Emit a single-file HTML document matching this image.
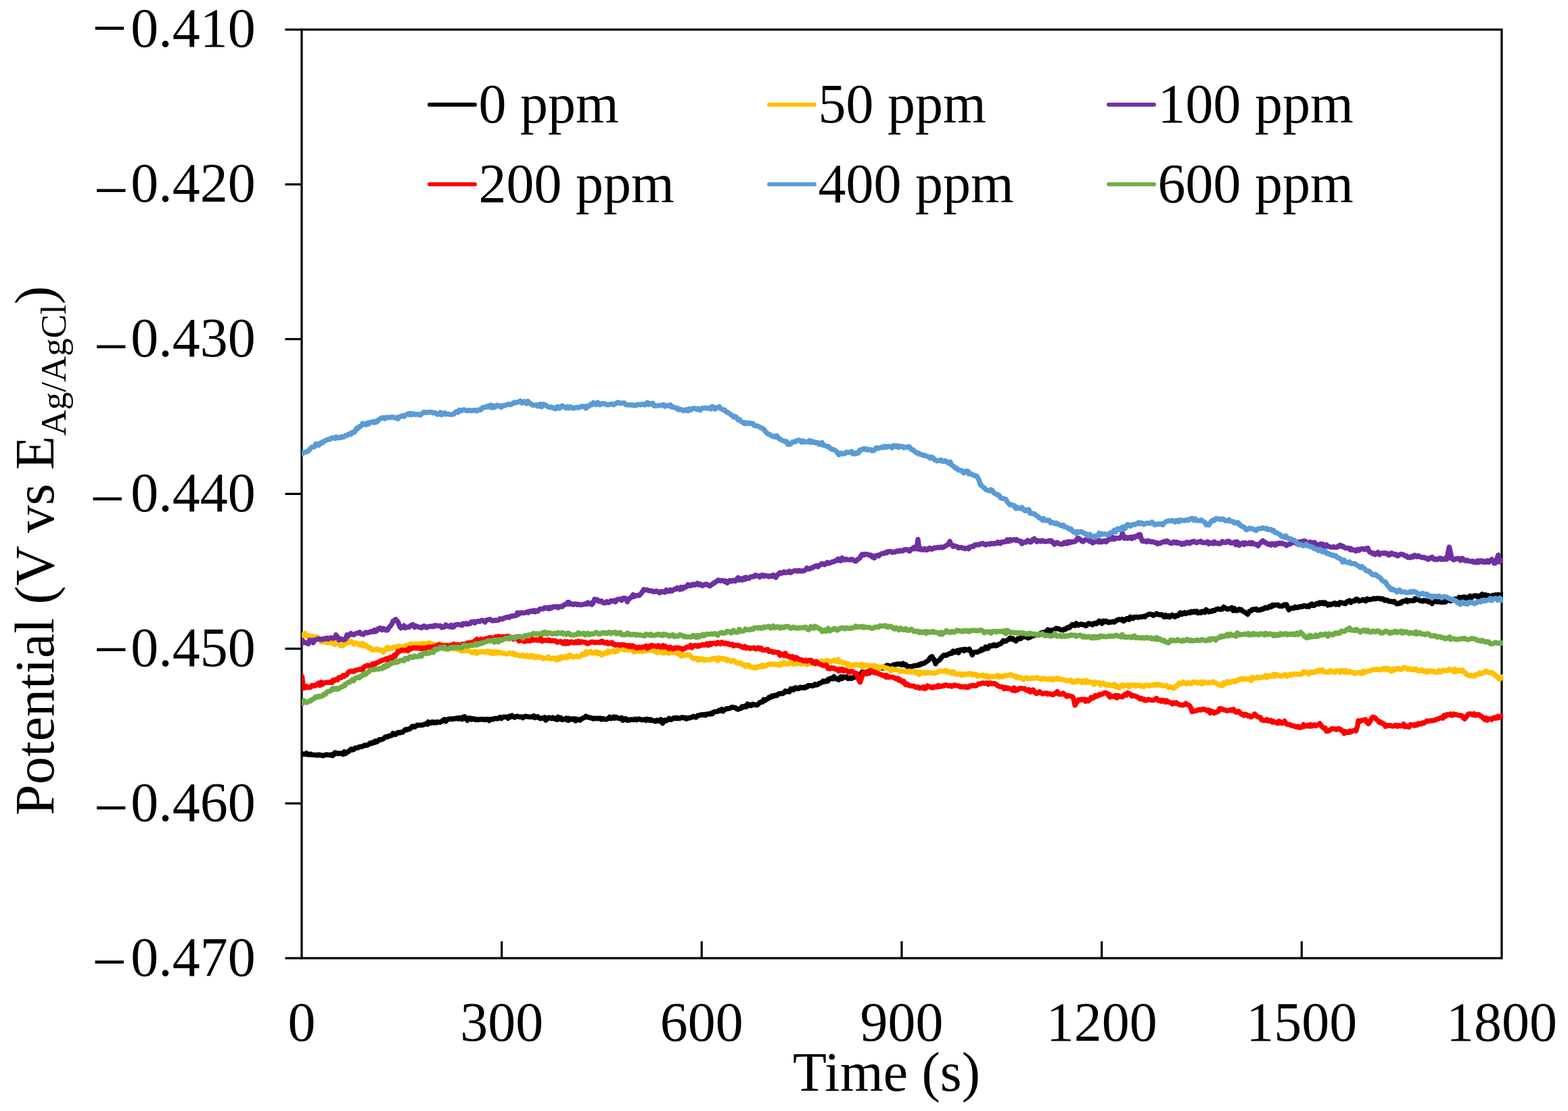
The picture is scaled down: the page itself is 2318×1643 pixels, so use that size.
<!DOCTYPE html>
<html><head><meta charset="utf-8"><style>
html,body{margin:0;padding:0;background:#fff;}
svg{display:block;}
text{font-family:"Liberation Serif","Times New Roman",serif;font-size:82px;fill:#000;}
</style></head><body>
<svg width="2318" height="1643" viewBox="0 0 2318 1643">
<rect width="2318" height="1643" fill="#fff"/>
<rect x="446.0" y="43.8" width="1774.0" height="1373.2" fill="none" stroke="#000" stroke-width="3.2"/>
<line x1="421.5" y1="43.8" x2="446.0" y2="43.8" stroke="#000" stroke-width="3.2"/>
<line x1="421.5" y1="272.7" x2="446.0" y2="272.7" stroke="#000" stroke-width="3.2"/>
<line x1="421.5" y1="501.5" x2="446.0" y2="501.5" stroke="#000" stroke-width="3.2"/>
<line x1="421.5" y1="730.4" x2="446.0" y2="730.4" stroke="#000" stroke-width="3.2"/>
<line x1="421.5" y1="959.3" x2="446.0" y2="959.3" stroke="#000" stroke-width="3.2"/>
<line x1="421.5" y1="1188.1" x2="446.0" y2="1188.1" stroke="#000" stroke-width="3.2"/>
<line x1="421.5" y1="1417.0" x2="446.0" y2="1417.0" stroke="#000" stroke-width="3.2"/>
<line x1="741.7" y1="1417.0" x2="741.7" y2="1392" stroke="#000" stroke-width="3.2"/>
<line x1="1037.3" y1="1417.0" x2="1037.3" y2="1392" stroke="#000" stroke-width="3.2"/>
<line x1="1333.0" y1="1417.0" x2="1333.0" y2="1392" stroke="#000" stroke-width="3.2"/>
<line x1="1628.7" y1="1417.0" x2="1628.7" y2="1392" stroke="#000" stroke-width="3.2"/>
<line x1="1924.3" y1="1417.0" x2="1924.3" y2="1392" stroke="#000" stroke-width="3.2"/>
<defs><clipPath id="pa"><rect x="446.0" y="43.8" width="1776.0" height="1373.2"/></clipPath></defs>
<g fill="none" stroke-width="7.5" stroke-linejoin="round" stroke-linecap="round" clip-path="url(#pa)">
<path d="M447.0,1114.8 449.0,1115.5 451.0,1115.2 453.0,1113.7 455.0,1116.1 457.5,1115.8 459.0,1115.0 461.0,1116.3 463.0,1116.3 465.0,1116.4 467.0,1116.4 469.0,1117.1 471.0,1116.0 473.0,1116.8 474.9,1116.6 477.0,1117.6 479.0,1117.0 481.0,1116.5 483.0,1115.9 485.0,1116.4 487.0,1116.5 489.0,1116.1 491.0,1117.6 492.4,1117.2 495.0,1113.0 497.0,1113.4 499.0,1114.7 501.0,1114.1 503.0,1114.3 505.0,1113.9 507.0,1115.4 509.0,1111.8 509.8,1112.4 511.0,1114.4 513.0,1112.3 515.0,1111.6 517.0,1109.7 519.0,1107.9 521.0,1109.0 523.0,1108.3 525.0,1106.2 527.3,1106.0 529.0,1106.0 531.0,1104.4 533.0,1104.5 535.0,1104.0 537.0,1103.3 539.0,1102.0 541.0,1102.4 543.0,1102.0 544.8,1100.9 547.0,1098.9 549.0,1099.8 551.0,1097.8 553.0,1098.5 555.0,1095.9 557.0,1097.2 559.0,1095.5 561.0,1093.6 562.2,1094.1 565.0,1093.2 567.0,1092.5 569.0,1090.4 571.0,1089.4 573.0,1089.8 575.0,1088.2 577.0,1088.0 579.7,1087.3 581.0,1084.5 583.0,1085.8 585.0,1086.2 587.0,1084.1 589.0,1083.0 591.0,1083.9 593.0,1082.8 595.0,1082.9 597.1,1081.0 599.0,1079.0 601.0,1079.5 603.0,1078.2 605.0,1078.6 607.0,1077.1 609.0,1074.4 611.0,1073.9 613.0,1075.1 614.6,1074.1 617.0,1072.3 619.0,1072.6 621.0,1072.6 623.0,1072.3 625.0,1072.3 627.0,1071.2 629.0,1070.5 631.0,1069.9 632.1,1071.0 633.0,1067.6 635.0,1069.4 637.0,1069.3 639.0,1067.5 641.0,1069.0 643.0,1067.7 645.0,1068.9 647.0,1067.6 649.5,1068.0 651.0,1068.2 653.0,1066.9 655.0,1065.1 657.0,1064.0 659.0,1066.7 661.0,1064.4 663.0,1063.3 665.0,1063.6 667.0,1062.8 669.0,1063.7 671.0,1062.8 673.0,1062.7 675.0,1061.9 677.0,1063.0 679.0,1061.4 681.0,1063.0 683.0,1063.7 684.4,1060.6 687.0,1059.9 689.0,1063.2 691.0,1065.3 693.0,1062.0 695.0,1061.9 697.0,1064.0 699.0,1062.7 701.0,1063.3 701.9,1063.5 703.0,1064.5 705.0,1063.6 707.0,1064.4 709.0,1064.0 711.0,1063.5 713.0,1064.1 715.0,1063.6 717.0,1064.6 719.4,1063.6 721.0,1063.4 723.0,1065.6 725.0,1063.8 727.0,1063.5 729.0,1063.8 731.0,1062.6 733.0,1062.5 735.0,1062.8 736.8,1062.4 739.0,1060.7 741.0,1062.5 743.0,1060.9 745.0,1060.2 747.0,1060.2 749.0,1060.5 751.0,1062.3 753.0,1059.3 754.3,1060.5 757.0,1058.1 759.0,1060.1 761.0,1060.9 763.0,1059.7 765.0,1059.2 767.0,1060.0 769.0,1060.3 771.7,1060.2 773.0,1061.5 775.0,1059.9 777.0,1059.2 779.0,1059.7 781.0,1059.9 783.0,1060.2 785.0,1060.1 787.0,1060.4 789.2,1058.7 791.0,1061.4 793.0,1060.2 795.0,1059.8 797.0,1061.8 799.0,1062.7 801.0,1062.0 803.0,1061.9 805.0,1061.0 806.7,1065.0 809.0,1063.1 811.0,1061.2 813.0,1061.7 815.0,1062.6 817.0,1061.1 819.0,1062.9 821.0,1062.4 823.0,1064.2 824.1,1064.0 825.0,1060.3 827.0,1063.1 829.0,1061.5 831.0,1064.3 833.0,1063.4 835.0,1063.8 837.0,1062.3 839.0,1065.2 839.9,1065.4 841.0,1062.4 843.0,1064.0 845.0,1063.1 847.0,1063.9 849.0,1062.8 851.0,1066.1 853.0,1063.4 855.0,1064.3 857.5,1065.2 859.0,1063.3 861.0,1062.7 863.0,1061.4 865.0,1060.8 866.2,1059.2 867.0,1060.1 869.0,1060.7 871.0,1061.0 873.0,1061.8 874.9,1061.8 877.0,1063.1 879.0,1062.2 881.0,1062.6 883.0,1062.3 885.0,1062.6 887.0,1062.1 889.0,1064.0 891.0,1062.6 892.4,1063.1 895.0,1063.8 897.0,1063.6 899.0,1062.5 901.0,1060.6 903.0,1062.7 905.0,1062.2 907.0,1060.3 909.0,1062.1 909.8,1060.5 911.0,1060.4 913.0,1062.0 915.0,1062.1 917.0,1062.9 919.0,1061.5 921.0,1065.3 923.0,1063.3 925.0,1062.7 927.3,1065.4 929.0,1064.3 931.0,1064.9 933.0,1064.1 935.0,1064.3 937.0,1064.5 939.0,1063.4 941.0,1064.7 943.0,1063.5 944.8,1063.0 947.0,1064.2 949.0,1064.7 951.0,1064.3 953.0,1063.8 955.0,1065.5 957.0,1063.3 959.0,1064.3 961.0,1065.5 962.2,1064.2 965.0,1065.8 967.0,1065.8 969.0,1066.8 971.0,1065.1 973.0,1065.5 975.0,1066.6 977.0,1063.9 979.7,1069.6 981.0,1065.5 983.0,1064.9 985.0,1066.0 987.0,1064.6 989.0,1062.4 991.0,1064.3 993.0,1064.0 995.0,1062.2 997.1,1061.8 999.0,1062.6 1001.0,1061.2 1003.0,1062.6 1005.0,1062.3 1007.0,1061.4 1009.0,1060.7 1011.0,1061.9 1013.0,1061.2 1014.6,1063.1 1017.0,1061.8 1019.0,1062.0 1021.0,1061.0 1023.0,1060.7 1025.0,1059.3 1027.0,1060.3 1029.0,1061.0 1031.0,1058.5 1032.1,1058.0 1033.0,1058.3 1035.0,1057.6 1037.0,1056.9 1039.0,1057.4 1041.0,1056.5 1043.0,1057.9 1045.0,1056.0 1047.0,1056.0 1049.5,1056.1 1051.0,1054.5 1053.0,1055.7 1055.0,1053.1 1057.0,1052.5 1059.0,1052.4 1061.0,1052.1 1063.0,1050.4 1065.0,1051.2 1067.0,1049.1 1069.0,1051.7 1071.0,1049.7 1073.0,1048.6 1075.0,1047.9 1077.0,1047.9 1079.0,1047.5 1081.0,1046.2 1083.0,1045.8 1084.4,1046.2 1087.0,1046.4 1089.0,1048.3 1091.0,1048.9 1093.2,1048.2 1095.0,1047.7 1097.0,1044.9 1099.0,1045.9 1101.0,1044.2 1101.9,1044.3 1103.0,1045.3 1105.0,1041.2 1107.0,1043.5 1109.0,1042.0 1111.0,1043.5 1113.0,1041.4 1115.0,1042.0 1117.0,1042.5 1119.4,1042.7 1121.0,1041.1 1123.0,1039.1 1125.0,1038.1 1127.0,1038.3 1128.1,1036.8 1129.0,1034.6 1131.0,1035.9 1133.0,1034.3 1135.0,1033.5 1136.8,1031.2 1139.0,1031.6 1141.0,1029.0 1143.0,1030.0 1145.0,1028.2 1147.0,1028.7 1149.0,1028.3 1151.0,1025.9 1153.0,1025.8 1154.3,1025.5 1157.0,1025.7 1159.0,1024.5 1161.0,1021.9 1163.0,1022.9 1165.0,1022.4 1167.0,1023.1 1169.0,1018.6 1171.7,1018.8 1173.0,1020.4 1175.0,1017.3 1177.0,1017.1 1179.0,1018.4 1181.0,1018.5 1183.0,1016.4 1185.0,1017.2 1187.0,1016.4 1189.2,1017.4 1191.0,1015.5 1193.0,1016.1 1195.0,1013.8 1197.0,1014.1 1199.0,1013.8 1201.0,1014.6 1203.0,1013.7 1205.0,1011.9 1206.7,1013.0 1209.0,1012.3 1211.0,1010.7 1213.0,1009.9 1215.0,1009.2 1217.0,1007.0 1219.0,1008.2 1221.0,1007.6 1223.0,1005.8 1224.1,1007.0 1225.0,1004.3 1227.0,1003.9 1229.0,1002.7 1231.1,1003.9 1233.0,1000.8 1235.0,1003.4 1237.0,1004.3 1239.0,1004.2 1239.9,1005.2 1241.0,1002.8 1243.0,1001.0 1245.0,1003.6 1247.0,1001.1 1248.7,1001.6 1251.0,1000.9 1253.0,1003.4 1255.0,1003.4 1257.5,1002.0 1259.0,1003.4 1261.0,1002.2 1263.0,1001.5 1265.0,1001.3 1266.2,1000.8 1267.0,1001.0 1269.0,999.1 1271.0,996.8 1273.0,996.6 1274.9,993.4 1277.0,994.2 1279.0,994.2 1281.0,995.2 1283.0,993.1 1285.0,995.3 1287.0,993.6 1289.0,993.1 1291.0,992.5 1292.4,993.7 1295.0,991.9 1297.0,989.7 1299.0,988.7 1301.0,988.3 1303.0,987.2 1305.0,987.9 1307.0,987.2 1309.0,985.7 1309.8,984.8 1311.0,983.9 1313.0,984.2 1315.0,984.8 1317.0,985.8 1319.0,984.4 1321.0,983.0 1323.0,983.1 1325.0,982.4 1327.3,981.9 1329.0,982.2 1331.0,982.1 1333.0,983.4 1335.0,981.2 1336.0,982.3 1337.0,983.3 1339.0,982.8 1341.0,985.5 1343.0,985.8 1344.8,985.8 1347.0,986.0 1349.0,985.3 1351.0,984.7 1353.0,984.3 1355.0,984.3 1357.0,984.2 1359.0,982.4 1361.0,982.9 1362.2,981.2 1365.0,981.3 1367.0,980.4 1369.0,978.8 1370.9,977.7 1373.0,976.0 1375.0,972.7 1377.0,971.1 1377.9,971.0 1379.0,973.2 1381.0,976.0 1383.2,981.7 1385.0,977.7 1387.0,977.3 1389.0,976.1 1391.0,973.2 1393.0,971.0 1395.0,969.1 1397.1,968.9 1399.0,969.3 1401.0,967.8 1403.0,967.1 1405.0,966.0 1407.0,966.3 1409.0,963.0 1411.0,964.8 1413.0,964.0 1414.6,962.1 1417.0,965.2 1419.0,961.2 1421.0,961.1 1423.0,960.6 1425.0,962.5 1427.0,960.1 1429.0,961.3 1431.0,960.8 1432.1,960.2 1433.0,959.9 1435.0,963.3 1437.3,968.6 1439.0,964.9 1441.0,964.5 1443.0,964.4 1445.0,964.5 1447.0,963.1 1449.5,962.5 1451.0,960.0 1453.0,961.1 1455.0,959.8 1457.0,956.8 1459.0,959.0 1461.0,958.8 1463.0,954.9 1465.0,954.8 1467.0,955.3 1469.0,953.4 1471.0,953.9 1472.2,955.2 1475.0,953.9 1477.0,952.5 1479.0,952.2 1481.0,950.5 1483.0,947.5 1484.4,948.3 1487.0,948.3 1489.0,946.7 1491.0,945.5 1493.2,943.4 1495.0,945.1 1497.0,944.0 1499.0,946.5 1501.0,946.4 1501.9,948.0 1503.0,946.8 1505.0,944.2 1507.0,944.5 1509.0,944.6 1510.6,941.4 1513.0,942.0 1515.0,941.8 1517.0,941.0 1519.4,943.5 1521.0,943.3 1523.0,942.2 1525.0,941.1 1527.0,940.2 1529.0,939.9 1531.0,938.3 1533.0,939.3 1535.0,938.9 1536.8,938.2 1539.0,936.0 1541.0,935.9 1543.0,935.0 1545.0,936.2 1547.0,933.9 1549.0,931.1 1551.0,932.7 1553.0,933.5 1554.3,931.9 1557.0,932.1 1559.0,931.2 1561.0,929.2 1563.0,929.4 1565.0,929.9 1567.0,931.0 1569.0,931.5 1571.7,931.9 1573.0,930.3 1575.0,930.8 1577.0,928.8 1579.0,927.6 1580.5,928.5 1583.0,926.0 1585.0,923.6 1587.0,924.7 1589.2,925.2 1591.0,921.9 1593.0,924.5 1595.0,924.4 1597.0,923.2 1599.0,923.1 1601.0,924.0 1603.0,923.8 1605.0,925.5 1606.7,924.6 1609.0,922.0 1611.0,922.2 1613.0,923.3 1615.0,924.0 1617.0,922.0 1619.0,921.4 1621.0,922.5 1623.0,920.1 1624.1,919.5 1625.0,918.4 1627.0,919.3 1629.0,922.0 1631.0,918.4 1633.0,919.8 1635.0,918.4 1637.0,920.0 1639.0,920.7 1639.9,919.6 1641.0,920.3 1643.0,919.9 1645.0,919.3 1647.0,920.1 1649.0,918.8 1651.0,917.3 1653.0,916.5 1655.0,916.0 1657.5,916.8 1659.0,915.8 1661.0,918.5 1663.0,917.3 1665.0,915.0 1667.0,914.6 1669.0,916.3 1671.0,912.4 1673.0,913.5 1674.9,914.7 1677.0,912.5 1679.0,912.6 1681.0,912.4 1683.0,913.2 1685.0,912.3 1687.0,912.3 1689.0,912.2 1691.0,911.3 1692.4,912.2 1695.0,910.0 1697.0,909.0 1699.0,908.3 1701.0,908.2 1703.0,908.9 1705.0,910.2 1707.0,909.1 1709.0,908.0 1709.8,907.4 1711.0,908.2 1713.0,908.9 1715.0,909.2 1717.0,908.8 1719.0,910.3 1721.0,912.3 1723.0,909.6 1725.0,912.0 1727.3,910.7 1729.0,912.6 1731.0,911.2 1733.0,909.3 1735.0,911.0 1737.0,912.2 1739.0,910.0 1741.0,910.6 1743.0,908.8 1744.8,906.3 1747.0,908.5 1749.0,907.2 1751.0,905.8 1753.0,907.6 1755.0,906.7 1757.0,905.5 1759.0,906.5 1761.0,904.4 1762.2,905.6 1765.0,904.0 1767.0,905.5 1769.0,903.9 1771.0,906.5 1773.0,905.2 1775.0,906.4 1777.0,904.2 1779.7,904.5 1781.0,905.6 1783.0,901.7 1785.0,903.1 1787.0,904.9 1789.0,904.0 1791.0,904.3 1793.0,902.7 1795.0,903.2 1797.1,901.6 1799.0,900.8 1801.0,900.3 1803.0,901.2 1805.0,901.0 1807.0,900.7 1809.0,897.6 1811.0,899.0 1813.0,900.2 1814.6,900.9 1817.0,900.2 1819.0,900.0 1821.0,898.6 1823.0,903.1 1825.0,900.0 1827.0,902.9 1829.0,902.9 1831.0,901.7 1832.1,900.9 1833.0,902.0 1835.0,901.6 1837.0,903.9 1839.0,904.5 1841.0,905.9 1843.0,907.1 1844.3,908.5 1847.0,904.1 1849.5,903.4 1851.0,901.4 1853.0,901.1 1855.0,901.2 1857.0,900.6 1859.0,902.4 1861.0,902.1 1863.0,902.3 1865.0,900.8 1867.0,900.9 1869.0,899.4 1871.0,898.3 1873.0,899.3 1875.0,898.5 1877.0,896.5 1879.0,897.6 1881.0,894.7 1883.0,895.6 1884.4,894.7 1887.0,894.8 1889.0,894.3 1891.0,896.3 1893.0,895.9 1895.0,896.6 1897.0,895.5 1899.0,894.1 1901.0,895.0 1901.9,894.2 1903.0,897.5 1905.4,901.8 1907.0,900.6 1909.0,899.3 1911.0,899.2 1913.0,899.4 1915.0,897.4 1917.0,898.6 1919.4,898.2 1921.0,897.2 1923.0,897.0 1925.0,897.3 1927.0,896.0 1929.0,895.7 1931.0,897.0 1933.0,896.1 1935.0,897.2 1937.0,894.3 1939.0,893.2 1941.0,895.6 1943.0,895.3 1945.0,893.3 1947.0,892.2 1949.0,893.4 1951.0,891.3 1952.2,892.6 1955.0,890.9 1957.0,892.9 1959.0,891.1 1961.0,893.1 1963.0,895.0 1965.0,893.3 1967.0,894.4 1969.7,893.1 1971.0,892.7 1973.0,891.8 1975.0,894.0 1977.0,892.6 1979.0,894.0 1981.0,890.9 1983.0,891.5 1985.0,891.5 1987.1,892.6 1989.0,892.7 1991.0,889.9 1993.0,889.1 1995.0,888.2 1997.0,891.0 1999.0,889.3 2001.0,888.4 2003.0,888.7 2004.6,886.0 2007.0,886.5 2009.0,889.0 2011.0,888.3 2013.0,887.8 2015.0,886.5 2017.0,887.9 2019.0,888.8 2021.0,885.6 2022.1,886.8 2023.0,886.2 2025.0,886.8 2027.0,886.3 2029.0,885.9 2031.0,885.0 2033.0,885.7 2035.0,884.9 2037.0,885.1 2039.5,885.0 2041.0,886.0 2043.0,885.3 2045.0,886.1 2047.0,888.0 2049.0,887.2 2051.0,887.6 2053.0,889.3 2055.0,889.2 2057.0,889.5 2059.0,890.2 2061.0,889.3 2063.0,891.6 2065.0,893.0 2067.0,892.8 2069.2,891.3 2071.0,892.0 2073.0,889.4 2074.4,889.2 2077.0,889.1 2079.0,887.5 2081.0,889.7 2083.0,888.0 2085.0,888.6 2087.0,888.1 2089.0,888.6 2091.0,888.1 2091.9,885.3 2093.0,886.9 2095.0,885.0 2097.0,886.8 2099.0,888.2 2101.0,888.6 2103.0,889.2 2105.0,887.7 2107.0,888.6 2109.4,888.6 2111.0,889.9 2113.0,890.3 2115.0,888.5 2117.0,892.7 2119.0,889.0 2121.0,888.7 2123.0,889.8 2125.0,890.1 2126.8,890.0 2129.0,888.6 2131.0,890.7 2133.0,889.2 2135.0,890.5 2137.0,890.3 2139.0,887.5 2141.0,887.7 2143.0,887.6 2144.3,888.8 2147.0,887.8 2149.0,887.4 2151.0,885.7 2153.0,886.4 2155.0,886.7 2157.0,883.4 2159.0,883.9 2161.7,883.6 2163.0,883.1 2165.0,882.8 2167.0,884.6 2169.0,883.9 2171.0,883.2 2173.0,881.4 2175.0,884.2 2177.0,882.1 2179.2,881.0 2181.0,881.1 2183.0,880.9 2185.0,883.4 2187.0,881.3 2189.0,881.1 2191.0,878.8 2193.0,881.5 2194.9,879.6 2197.0,879.9 2199.0,882.0 2201.0,880.8 2203.0,882.9 2205.4,883.6 2207.0,880.3 2209.0,881.6 2211.0,879.7 2213.0,880.9 2214.1,881.6 2215.0,879.3 2217.0,882.5 2219.3,880.4 2221.0,879.5" stroke="#000000"/>
<path d="M446.1,939.5 447.0,938.8 449.0,938.9 451.0,936.8 453.1,941.1 455.0,941.0 457.0,940.1 459.0,941.8 461.0,941.9 461.8,941.3 463.0,943.0 465.0,941.9 467.0,942.1 469.0,941.8 470.6,943.2 473.0,946.1 474.9,949.4 477.0,948.5 479.0,949.4 481.0,948.6 483.6,950.6 485.0,950.1 487.0,950.4 489.0,950.7 491.0,949.5 492.4,951.4 495.0,953.2 497.0,949.9 499.0,950.2 501.1,950.9 503.0,954.4 505.5,955.1 507.0,954.9 509.0,952.9 509.8,951.7 511.0,951.4 513.0,950.4 515.0,950.8 517.0,948.2 518.6,948.5 521.0,950.1 523.0,952.5 525.0,950.7 527.3,951.3 529.0,952.0 531.0,953.7 533.0,952.7 535.0,954.5 536.0,951.4 537.0,954.8 539.0,955.5 541.0,953.8 543.0,956.2 544.8,958.0 547.0,957.7 549.0,959.4 551.0,961.6 553.5,960.5 555.0,960.1 557.0,959.8 559.0,961.4 561.0,960.8 562.2,960.9 565.0,962.7 566.6,964.4 569.0,960.7 570.9,958.7 573.0,957.2 575.0,960.2 577.0,958.5 579.7,959.1 581.0,957.5 583.0,956.5 585.0,957.6 587.0,956.8 588.4,955.5 591.0,955.6 593.0,958.1 595.0,956.4 597.1,956.3 599.0,955.0 601.0,954.0 603.0,955.0 605.0,953.4 605.9,952.5 607.0,953.1 609.0,952.3 611.0,953.4 613.0,954.4 614.6,952.4 617.0,954.4 619.0,952.1 621.0,952.8 623.3,951.5 625.0,952.1 627.0,952.3 629.0,951.8 631.0,951.5 632.1,951.4 633.0,951.3 635.0,950.7 637.0,952.1 639.0,952.9 641.0,953.5 643.0,953.3 645.0,955.2 647.0,953.2 649.5,952.5 651.0,955.2 653.0,952.8 655.0,955.3 657.0,953.9 659.0,955.7 661.0,953.9 663.0,957.3 665.0,956.7 667.0,956.4 669.0,959.6 671.0,959.3 673.0,959.2 675.0,959.0 677.0,960.3 679.0,960.8 681.0,962.3 683.0,963.0 684.4,961.9 687.0,962.3 689.0,962.5 691.0,961.9 693.0,962.9 695.0,963.6 697.0,964.5 699.0,965.4 701.0,963.4 701.9,964.9 703.0,963.9 705.0,966.4 707.0,964.3 709.0,964.8 711.0,963.4 713.0,963.5 715.0,964.5 717.0,964.0 719.4,964.7 721.0,962.9 723.0,965.2 725.0,963.7 727.0,966.4 729.0,964.5 731.0,966.0 733.0,963.6 735.0,965.6 736.8,964.3 739.0,964.9 741.0,965.7 743.0,965.5 745.0,966.3 747.0,967.0 749.0,967.1 751.0,966.5 753.0,965.5 754.3,966.2 757.0,967.2 759.0,965.6 761.0,968.7 763.0,968.0 765.0,968.3 767.0,969.8 769.0,969.8 771.7,969.8 773.0,968.7 775.0,970.2 777.0,970.5 779.0,969.4 781.0,971.6 783.0,971.2 785.0,968.9 787.0,971.2 789.2,970.1 791.0,972.6 793.0,972.5 795.0,970.8 797.0,971.2 799.0,972.4 801.0,972.3 803.0,974.2 805.0,973.6 806.7,972.8 809.0,973.8 811.0,971.3 813.0,973.7 815.0,974.4 817.0,973.4 819.0,973.0 821.0,974.4 823.0,975.9 824.1,974.2 825.0,972.7 827.0,974.8 829.0,971.1 831.0,973.1 833.0,971.6 835.0,972.8 837.0,970.6 839.0,972.4 839.9,971.2 841.0,969.1 843.0,968.8 845.0,970.4 847.0,972.0 849.0,970.8 851.0,970.7 853.0,970.3 855.0,971.3 857.5,970.8 859.0,969.8 861.0,967.3 863.0,968.3 865.0,967.3 866.2,963.9 867.0,967.5 869.0,965.9 871.0,964.7 873.0,963.3 874.9,965.9 877.0,965.9 879.0,964.8 881.0,963.7 883.0,966.7 885.0,965.1 887.0,965.3 889.0,968.8 891.0,968.1 892.4,967.0 895.0,965.2 897.0,966.0 899.0,962.8 901.0,964.9 903.0,963.7 905.0,962.9 907.0,962.3 909.0,964.1 909.8,963.6 911.0,963.2 913.0,963.0 915.0,960.6 917.0,959.4 918.6,958.2 921.0,959.9 923.0,961.2 925.0,960.5 927.3,961.5 929.0,959.9 931.0,960.9 933.0,960.9 935.0,960.8 937.0,964.2 939.0,963.5 941.0,962.1 943.0,962.4 944.8,963.4 947.0,961.9 949.0,963.7 951.0,961.9 953.0,962.7 955.0,961.9 957.0,962.4 959.0,961.4 961.0,961.1 962.2,961.6 965.0,962.2 967.0,962.8 969.0,963.3 971.0,965.0 973.0,964.5 975.0,963.6 977.0,964.8 979.7,963.7 981.0,965.9 983.0,965.2 985.0,963.5 987.0,965.8 989.0,966.1 991.0,962.8 993.0,964.9 995.0,965.4 997.1,964.2 999.0,965.3 1001.0,965.7 1003.0,967.5 1005.0,967.6 1007.0,970.2 1009.0,967.5 1011.0,969.3 1013.0,968.5 1014.6,969.0 1017.0,968.4 1019.0,968.3 1021.0,970.2 1023.0,972.4 1025.0,973.9 1027.0,973.7 1029.0,974.2 1031.0,973.6 1032.1,976.4 1033.0,976.2 1035.0,974.4 1037.0,975.0 1039.0,974.2 1041.0,976.7 1043.0,975.8 1045.0,975.4 1047.0,976.0 1049.5,976.1 1051.0,975.1 1053.0,974.1 1055.0,973.9 1057.0,973.2 1059.0,975.2 1061.0,976.8 1063.0,972.6 1065.0,974.3 1067.0,974.4 1069.0,973.5 1071.0,975.2 1073.0,974.4 1075.0,977.2 1077.0,975.9 1079.0,977.1 1081.0,978.1 1083.0,977.5 1084.4,976.5 1087.0,978.6 1089.0,980.4 1091.0,980.2 1093.0,981.1 1095.0,980.4 1097.0,982.2 1099.0,983.4 1101.0,983.3 1101.9,985.5 1103.0,983.7 1105.0,983.4 1107.0,983.5 1109.0,986.8 1110.6,986.1 1113.0,987.2 1115.0,986.6 1117.0,987.8 1119.4,987.4 1121.0,985.5 1123.0,985.7 1125.0,986.1 1127.0,983.4 1129.0,985.7 1131.0,985.1 1133.0,984.4 1135.0,982.8 1136.8,983.0 1139.0,981.6 1141.0,982.7 1143.0,982.1 1145.0,982.8 1147.0,982.2 1149.0,983.0 1151.0,983.9 1153.0,981.4 1154.3,983.6 1157.0,980.4 1159.0,980.0 1161.0,981.9 1163.0,981.8 1165.0,982.0 1167.0,979.8 1169.0,981.1 1171.7,981.1 1173.0,982.2 1175.0,981.0 1177.0,981.7 1179.0,980.3 1181.0,981.2 1183.0,981.0 1185.0,982.3 1187.0,980.7 1189.2,981.0 1191.0,982.1 1193.0,983.0 1195.0,981.3 1197.0,980.9 1199.0,980.0 1201.0,981.1 1203.0,980.3 1205.0,981.2 1206.7,979.5 1209.0,978.1 1211.0,978.4 1213.0,977.9 1215.0,977.5 1217.0,979.9 1219.0,979.4 1221.0,977.2 1223.0,980.1 1224.1,978.6 1225.0,977.3 1227.0,978.6 1229.0,978.1 1231.0,977.3 1233.0,976.1 1235.0,978.0 1237.0,978.2 1239.0,975.3 1239.9,978.4 1241.0,978.9 1243.0,978.5 1245.0,979.8 1247.0,980.1 1248.7,980.1 1251.0,981.5 1253.0,984.0 1255.0,982.0 1257.5,984.7 1259.0,984.5 1261.0,983.5 1263.0,983.7 1265.0,982.6 1267.0,983.1 1269.0,983.9 1271.0,984.1 1273.0,982.7 1274.9,986.6 1277.0,983.2 1279.0,984.1 1281.0,983.9 1283.0,984.0 1285.0,985.9 1287.0,984.3 1289.0,986.3 1291.0,986.3 1292.4,984.3 1295.0,986.9 1297.0,985.6 1299.0,989.4 1301.0,986.6 1303.0,986.5 1305.0,985.9 1307.0,986.9 1309.0,988.0 1309.8,987.8 1311.0,987.8 1313.0,988.7 1315.0,989.6 1317.0,991.7 1319.0,988.9 1321.0,990.5 1323.0,990.5 1325.0,990.3 1327.3,991.0 1329.0,991.5 1331.0,993.2 1333.0,992.4 1335.0,992.1 1337.0,993.4 1339.0,993.1 1341.0,992.7 1343.0,993.4 1344.8,992.3 1347.0,994.0 1349.0,994.0 1351.0,993.4 1353.0,992.8 1355.0,995.7 1357.0,994.5 1359.0,997.6 1361.0,994.1 1362.2,995.8 1365.0,994.5 1367.0,995.2 1369.0,995.7 1371.0,994.1 1373.0,994.8 1375.0,995.1 1377.0,995.0 1379.7,995.5 1381.0,995.7 1383.0,995.2 1385.0,994.4 1387.0,993.5 1389.0,992.4 1391.0,992.5 1393.0,992.4 1395.0,993.3 1397.1,991.9 1399.0,991.6 1401.0,994.1 1403.0,993.2 1405.0,993.9 1405.9,994.7 1407.0,995.7 1409.0,993.4 1411.0,995.3 1413.0,997.2 1414.6,997.2 1417.0,996.5 1419.0,996.8 1421.0,998.6 1423.0,996.6 1425.0,997.7 1427.0,997.7 1429.0,996.3 1431.0,997.1 1432.1,996.2 1433.0,996.2 1435.0,996.0 1437.0,998.3 1439.0,997.3 1441.0,997.4 1443.0,997.2 1445.0,1000.4 1447.0,999.6 1449.5,999.1 1451.0,998.7 1453.0,998.1 1455.0,1000.1 1457.0,1000.3 1459.0,998.8 1461.0,1001.6 1463.0,1001.4 1465.0,999.9 1467.0,1000.5 1469.0,1000.4 1471.0,1000.8 1473.0,1000.3 1475.0,998.6 1477.0,1001.5 1479.0,1000.1 1481.0,1000.9 1483.0,1000.7 1484.4,999.1 1487.0,999.1 1489.0,999.1 1491.0,998.7 1493.2,997.4 1495.0,997.8 1497.0,999.5 1499.0,999.6 1501.0,1000.9 1501.9,999.9 1503.0,1002.1 1505.0,1001.2 1507.0,1001.8 1509.0,1002.5 1511.0,1003.1 1513.0,1004.9 1515.0,1003.4 1517.0,1002.0 1519.4,1003.8 1521.0,1003.0 1523.0,1004.0 1525.0,1002.9 1527.0,1002.9 1529.0,1003.1 1531.0,1003.0 1533.0,1001.8 1535.0,1003.0 1536.8,1003.6 1539.0,1004.8 1541.0,1003.3 1543.0,1003.3 1545.0,1004.2 1547.0,1004.2 1549.0,1005.2 1551.0,1004.2 1553.0,1003.6 1554.3,1005.0 1557.0,1005.4 1559.0,1003.6 1561.0,1004.5 1563.0,1002.8 1565.0,1004.3 1567.0,1004.0 1569.0,1004.9 1571.7,1004.9 1573.0,1005.4 1575.0,1005.8 1577.0,1006.7 1579.0,1006.7 1581.0,1006.2 1583.0,1005.8 1585.0,1008.6 1587.0,1009.1 1589.2,1007.5 1591.0,1008.6 1593.0,1006.5 1595.0,1006.4 1597.0,1007.7 1599.0,1009.5 1601.0,1006.9 1603.0,1007.2 1605.0,1009.6 1606.7,1006.1 1609.0,1009.0 1611.0,1009.1 1613.0,1008.7 1615.0,1009.4 1617.0,1012.2 1619.0,1008.7 1621.0,1009.8 1623.0,1010.2 1624.1,1009.9 1625.0,1009.4 1627.0,1012.8 1629.0,1011.8 1631.0,1010.2 1633.0,1011.6 1635.0,1013.1 1637.0,1013.5 1639.0,1012.1 1639.9,1013.6 1641.0,1014.0 1643.0,1014.1 1645.0,1014.2 1647.0,1012.0 1649.0,1015.7 1651.0,1014.2 1653.0,1015.8 1655.0,1016.9 1657.5,1013.9 1659.0,1012.9 1661.0,1015.0 1663.0,1013.9 1665.0,1013.7 1667.0,1013.1 1669.0,1015.8 1671.0,1013.7 1673.0,1012.7 1674.9,1013.7 1677.0,1012.9 1679.0,1014.3 1681.0,1013.7 1683.0,1013.0 1685.0,1014.7 1687.0,1013.5 1689.0,1014.8 1691.0,1015.4 1692.4,1013.7 1695.0,1013.2 1697.0,1013.8 1699.0,1014.3 1701.0,1013.2 1703.0,1013.2 1705.0,1012.8 1707.0,1013.0 1709.0,1013.1 1709.8,1011.7 1711.0,1012.1 1713.0,1012.9 1715.0,1012.5 1717.0,1013.6 1719.0,1014.3 1721.0,1014.0 1723.0,1013.7 1725.0,1013.9 1727.3,1016.7 1729.0,1016.7 1731.0,1015.7 1732.5,1016.8 1735.0,1018.1 1737.0,1016.6 1739.0,1014.0 1741.0,1013.9 1743.0,1010.1 1744.8,1010.6 1747.0,1011.2 1749.0,1008.5 1751.0,1009.5 1753.0,1011.0 1755.0,1011.2 1757.0,1009.4 1759.0,1010.2 1761.0,1011.4 1762.2,1009.4 1765.0,1008.3 1767.0,1009.4 1769.0,1009.0 1771.0,1010.6 1773.0,1009.4 1775.0,1008.3 1777.0,1011.4 1779.7,1008.4 1781.0,1009.4 1783.0,1009.7 1785.0,1009.9 1787.0,1009.4 1789.0,1009.9 1791.0,1009.4 1793.0,1008.1 1795.0,1009.4 1797.1,1009.5 1799.0,1010.8 1801.0,1012.5 1802.4,1012.6 1805.0,1014.0 1807.0,1013.8 1809.0,1009.6 1811.0,1011.4 1813.0,1010.2 1814.6,1008.0 1817.0,1010.2 1819.0,1008.5 1821.0,1008.0 1823.0,1007.0 1825.0,1008.1 1827.0,1007.5 1829.0,1005.8 1831.0,1005.6 1832.1,1004.4 1833.0,1004.6 1835.0,1003.6 1837.0,1004.3 1839.0,1003.4 1841.0,1004.4 1843.0,1004.8 1845.0,1004.2 1847.0,1004.9 1849.5,1006.3 1851.0,1001.4 1853.0,1003.3 1855.0,1002.5 1857.0,1002.4 1859.0,1001.3 1861.0,1002.5 1863.0,1002.0 1865.0,1001.4 1867.0,1001.6 1869.0,1001.0 1871.0,998.9 1873.0,1002.1 1875.0,1000.4 1877.0,999.4 1879.0,1000.4 1881.0,999.1 1883.0,997.3 1884.4,1000.2 1887.0,997.5 1889.0,998.8 1891.0,999.1 1893.0,1000.2 1895.0,999.9 1897.0,998.8 1899.0,997.8 1901.0,998.0 1901.9,999.5 1903.0,1000.1 1905.0,998.6 1907.0,997.2 1909.0,998.7 1911.0,997.1 1913.0,996.9 1915.0,996.8 1917.0,997.5 1919.4,996.9 1921.0,997.4 1923.0,997.5 1925.0,996.4 1927.0,993.3 1929.0,993.7 1931.0,995.2 1933.0,994.8 1935.0,996.7 1937.0,994.2 1939.0,993.9 1941.0,994.7 1943.5,994.5 1945.0,992.9 1947.0,993.2 1949.0,991.2 1951.0,991.0 1952.2,992.9 1955.0,990.7 1957.0,993.3 1959.0,993.4 1961.0,993.8 1963.0,994.2 1965.0,994.1 1967.0,991.7 1969.7,993.3 1971.0,993.4 1973.0,994.5 1975.0,992.1 1977.0,992.1 1978.4,992.2 1981.0,994.1 1983.0,991.6 1985.0,991.8 1987.0,994.0 1989.0,991.5 1991.0,994.1 1993.0,993.5 1995.0,992.6 1995.9,993.9 1997.0,993.3 1999.0,994.6 2001.0,994.9 2003.0,996.1 2005.0,994.7 2007.0,994.9 2009.0,994.4 2011.0,995.0 2013.3,996.2 2015.0,992.7 2017.0,994.7 2019.0,992.9 2021.0,992.9 2023.0,992.6 2025.0,992.5 2027.0,991.3 2029.0,990.1 2030.8,990.2 2033.0,989.9 2035.0,989.7 2037.0,990.1 2039.0,990.8 2041.0,990.1 2043.0,990.1 2045.0,988.6 2047.0,989.8 2049.0,988.1 2051.0,990.6 2053.0,989.0 2055.0,991.2 2057.0,992.9 2059.0,989.4 2061.0,991.0 2063.0,989.9 2065.0,988.8 2067.0,988.4 2069.0,989.7 2071.0,990.4 2073.0,989.2 2075.0,987.2 2077.0,987.5 2079.0,988.2 2081.0,989.7 2083.2,988.5 2085.0,989.0 2087.0,990.5 2089.0,989.7 2091.0,990.4 2091.9,990.6 2093.0,989.1 2095.0,991.6 2097.0,991.7 2099.0,992.5 2101.0,990.5 2103.0,991.1 2105.0,993.0 2107.0,992.6 2109.4,993.9 2111.0,991.8 2113.0,992.9 2115.0,992.1 2117.0,993.2 2119.0,992.5 2121.0,993.7 2123.0,994.3 2125.0,994.0 2126.8,991.6 2129.0,994.0 2131.0,993.2 2133.0,991.4 2135.0,991.3 2137.0,991.9 2139.0,992.2 2141.0,990.8 2143.0,989.4 2144.3,991.1 2147.0,991.0 2149.0,993.2 2151.0,989.5 2153.0,993.3 2155.0,992.5 2157.0,991.1 2159.0,992.4 2161.7,990.9 2163.0,993.2 2165.0,993.7 2167.0,996.7 2169.0,997.8 2170.5,998.8 2173.0,999.6 2175.0,998.8 2177.0,999.7 2179.2,999.9 2181.0,998.0 2183.0,997.8 2185.0,997.4 2187.0,995.0 2189.0,996.5 2191.0,995.7 2193.0,995.1 2195.0,993.6 2196.7,992.3 2199.0,993.8 2201.0,994.2 2203.0,995.0 2205.4,994.5 2207.0,996.3 2209.0,997.0 2211.0,999.6 2213.0,1000.1 2214.1,1001.9 2215.0,1002.3 2217.0,1004.4 2219.3,1002.4 2221.0,1000.9" stroke="#FFC000"/>
<path d="M446.1,950.9 447.0,946.7 449.0,950.4 451.0,950.1 453.0,950.9 455.7,952.2 457.5,946.9 459.0,948.2 461.0,947.0 463.0,950.5 465.0,946.9 466.2,945.9 467.0,945.9 469.0,945.3 471.0,944.7 473.0,945.2 474.9,945.9 477.0,944.7 479.0,945.5 481.0,944.0 483.6,943.7 485.0,945.2 487.0,944.2 489.0,943.1 491.0,943.5 492.4,944.2 495.0,943.0 496.7,939.0 499.0,942.2 501.1,946.4 503.0,944.5 505.0,945.1 507.0,946.3 509.0,946.0 509.8,945.5 511.0,944.7 513.0,938.8 514.2,941.2 517.0,938.1 518.6,936.7 521.0,938.4 523.0,938.7 525.0,937.3 527.3,936.5 529.0,936.5 531.7,934.9 533.0,937.1 535.0,937.7 536.0,937.7 537.0,938.4 539.0,936.4 541.0,935.1 543.0,936.0 544.8,935.5 547.0,934.5 549.0,933.7 551.0,934.5 553.5,931.6 555.0,934.0 557.0,932.8 559.0,929.7 561.0,930.4 562.2,928.7 565.0,931.6 566.6,929.4 569.0,930.5 570.9,932.1 573.0,931.8 575.3,927.5 577.0,926.1 579.7,922.2 581.0,918.6 582.3,918.2 585.0,915.9 586.7,917.8 588.4,919.9 591.0,927.0 592.8,928.8 595.0,927.5 597.1,925.3 599.0,928.6 601.0,927.4 603.0,927.2 605.0,927.4 605.9,926.5 607.0,925.1 609.0,924.1 610.2,923.6 613.0,927.5 614.6,925.6 617.0,926.7 619.0,927.2 621.0,927.9 623.3,928.5 625.0,926.5 627.0,925.7 629.0,927.2 631.0,928.2 632.1,927.6 633.0,926.9 635.0,926.2 637.0,926.6 639.0,925.9 641.0,926.7 643.0,924.9 645.0,925.6 647.0,925.2 649.5,925.6 651.0,925.4 653.0,928.0 655.0,927.1 657.0,927.3 659.0,924.0 661.0,925.9 663.0,925.8 665.0,927.1 667.0,924.5 669.0,927.5 671.0,926.9 673.0,924.0 675.0,923.8 677.0,923.5 679.0,923.8 681.0,923.9 683.0,924.8 684.4,922.2 687.0,922.8 689.0,921.9 691.0,923.2 693.0,921.9 695.0,922.2 697.0,919.5 699.0,920.1 701.0,919.1 701.9,921.3 703.0,920.3 705.0,919.1 707.0,918.6 709.0,919.2 711.0,917.8 713.0,917.2 715.0,918.3 717.0,920.0 719.4,917.0 721.0,916.6 723.0,916.0 725.0,915.9 727.0,917.7 729.0,918.1 731.0,917.2 733.0,917.5 735.0,917.3 736.8,917.3 739.0,915.0 741.0,915.5 743.0,915.5 745.0,914.0 747.0,913.7 749.0,912.7 751.0,912.6 753.0,913.2 754.3,911.6 757.0,910.9 759.0,911.1 761.0,910.3 763.0,910.6 765.0,906.1 767.0,908.4 769.0,906.3 771.7,906.0 773.0,906.5 775.0,906.4 777.0,906.1 779.0,904.9 781.0,906.1 783.0,903.9 785.0,903.7 787.0,904.4 789.2,902.7 791.0,904.9 793.0,903.3 795.0,904.0 797.0,901.3 799.0,900.4 801.0,900.5 803.0,900.5 805.0,898.7 806.7,899.3 809.0,898.7 811.0,900.3 813.0,897.9 815.0,899.5 817.0,897.7 819.0,897.3 821.0,897.4 823.0,896.9 824.1,898.1 825.0,898.7 827.0,897.1 829.0,896.9 831.0,897.2 833.0,895.1 835.0,894.3 837.0,893.1 839.0,891.0 839.9,893.1 841.0,890.7 843.0,893.4 845.0,892.9 847.0,894.3 849.0,893.4 851.0,892.9 853.0,894.3 855.0,893.6 857.5,894.3 859.0,894.4 861.0,894.0 863.0,893.8 865.0,892.9 867.0,893.4 869.0,891.2 871.0,893.0 873.0,891.8 874.9,893.9 877.0,891.6 879.0,886.0 880.2,886.8 881.0,886.9 883.0,886.8 885.0,889.3 887.0,889.1 889.0,888.7 891.0,891.0 892.4,891.7 895.0,891.5 897.0,889.7 899.0,891.2 901.0,890.9 903.0,888.6 905.0,888.7 907.0,888.9 909.0,888.0 909.8,890.1 911.0,888.2 913.0,886.4 915.0,886.0 917.0,886.1 919.0,887.8 921.0,884.7 923.0,884.4 923.8,884.5 925.0,885.2 927.3,889.8 929.0,885.6 931.0,885.3 933.0,883.1 935.0,882.0 936.0,879.4 937.0,882.4 939.0,880.7 941.0,881.1 943.0,880.3 944.8,880.7 947.0,878.6 949.0,876.0 951.7,871.7 953.0,872.5 955.0,872.5 957.0,872.3 959.0,873.6 961.0,873.8 962.2,873.5 965.0,874.6 967.0,875.3 969.0,874.5 971.0,874.1 973.0,875.4 975.0,876.7 977.0,874.8 979.7,875.2 981.0,874.9 983.0,875.9 985.0,872.4 987.0,874.2 989.0,874.6 991.0,872.2 993.0,874.1 995.0,872.8 997.1,871.3 999.0,871.5 1001.0,869.3 1003.0,869.8 1005.0,871.7 1007.0,868.4 1009.0,870.7 1011.0,868.3 1013.0,868.8 1014.6,867.5 1017.0,864.7 1019.0,866.0 1021.0,866.4 1023.0,864.6 1025.0,864.0 1027.0,865.3 1029.0,863.9 1031.0,862.5 1032.1,863.3 1033.0,864.9 1035.0,863.8 1037.0,865.4 1039.0,866.2 1041.0,864.9 1043.0,863.9 1045.0,863.9 1047.0,865.4 1049.5,866.6 1051.0,865.1 1053.0,864.2 1055.0,862.1 1057.0,861.6 1059.0,859.7 1060.0,859.3 1061.0,858.3 1063.0,858.0 1065.0,859.1 1067.0,858.5 1069.0,858.5 1071.0,860.1 1073.0,859.2 1075.0,862.1 1077.0,860.0 1079.0,858.4 1081.0,859.7 1083.0,859.1 1084.4,858.0 1087.0,859.3 1089.0,857.0 1091.0,854.3 1093.0,857.8 1095.0,856.0 1097.0,857.7 1099.0,855.2 1101.0,854.2 1101.9,856.8 1103.0,853.9 1105.0,854.6 1107.0,855.4 1109.0,853.6 1111.0,852.9 1113.0,852.5 1115.0,852.8 1117.0,850.6 1119.4,851.5 1121.0,851.5 1123.0,853.4 1125.0,850.8 1127.0,850.3 1129.0,852.1 1131.0,851.0 1133.0,851.8 1135.0,851.8 1136.8,852.9 1139.0,851.5 1141.0,852.5 1143.0,850.4 1145.5,852.6 1147.0,854.0 1149.0,850.4 1151.0,849.0 1153.0,847.0 1154.3,847.9 1157.0,847.1 1159.0,845.5 1161.0,847.0 1163.0,846.3 1165.0,846.5 1167.0,844.8 1169.0,846.9 1171.7,845.2 1173.0,844.5 1175.0,843.9 1177.0,844.0 1179.0,844.9 1181.0,843.6 1183.0,844.7 1185.0,844.0 1187.0,844.6 1189.2,843.8 1191.0,842.4 1193.0,839.9 1195.0,841.5 1197.0,841.4 1199.0,840.1 1201.0,839.9 1203.0,838.2 1205.0,837.7 1207.0,836.5 1209.0,838.2 1211.0,836.3 1213.0,835.1 1215.0,833.6 1217.0,834.2 1219.0,835.1 1221.0,833.5 1223.0,831.7 1225.0,833.2 1227.0,832.6 1229.0,831.5 1231.0,830.7 1233.0,830.5 1235.0,829.2 1237.0,828.8 1239.0,826.7 1240.0,828.6 1241.0,827.4 1243.0,829.2 1245.0,825.1 1247.0,827.8 1249.0,828.1 1251.0,826.8 1253.0,827.6 1255.0,827.9 1257.5,827.7 1259.0,826.9 1261.0,827.7 1263.0,829.3 1265.0,829.9 1266.2,829.0 1267.0,828.2 1269.0,826.5 1271.0,825.6 1273.0,821.7 1274.9,819.7 1277.0,820.9 1279.0,819.5 1281.0,819.8 1283.6,820.2 1285.0,821.3 1287.0,820.8 1289.0,823.6 1291.0,822.1 1292.4,825.1 1295.0,821.8 1297.0,821.2 1299.0,822.2 1301.0,820.2 1303.0,818.9 1305.0,818.4 1307.0,818.4 1309.0,817.0 1309.8,816.6 1311.0,817.6 1313.0,815.6 1315.0,815.7 1317.0,815.4 1319.0,816.9 1321.0,816.5 1323.0,816.6 1325.0,815.1 1327.3,814.8 1329.0,815.5 1331.0,814.0 1333.0,814.9 1335.0,814.5 1337.0,812.8 1339.0,813.1 1341.0,812.7 1343.0,814.3 1344.8,814.9 1347.0,812.0 1349.0,812.0 1351.0,809.5 1353.0,811.8 1355.2,811.4 1357.0,797.8 1358.7,812.2 1361.0,811.0 1362.2,812.9 1365.0,813.0 1367.0,811.4 1369.0,813.3 1371.0,813.3 1373.0,810.7 1375.0,810.5 1377.0,812.3 1379.7,811.4 1381.0,809.9 1383.0,810.3 1385.0,810.0 1387.0,809.4 1389.0,809.9 1391.0,809.0 1393.0,809.9 1395.0,809.0 1397.1,807.7 1399.0,806.7 1401.0,805.5 1403.0,803.4 1404.1,800.6 1405.0,803.8 1407.6,806.3 1409.0,808.1 1411.0,807.1 1413.0,808.1 1414.6,808.3 1417.0,810.3 1419.0,809.4 1421.0,809.5 1423.0,810.6 1425.0,810.5 1426.8,811.6 1429.0,810.7 1431.0,810.3 1432.1,811.6 1433.0,809.0 1435.0,808.8 1437.0,808.0 1439.0,808.3 1441.0,805.8 1443.0,805.7 1445.0,805.7 1447.0,805.7 1449.5,804.4 1451.0,803.9 1453.0,803.6 1455.0,804.9 1457.0,805.9 1459.0,804.8 1461.0,804.6 1463.0,804.9 1465.0,803.5 1467.0,804.1 1469.0,803.8 1471.0,803.9 1473.0,803.2 1475.0,801.6 1477.0,803.6 1479.0,803.7 1481.0,801.4 1483.0,801.6 1484.4,801.2 1487.0,801.0 1489.0,798.1 1491.0,800.6 1493.2,797.9 1495.0,799.6 1497.0,798.4 1499.0,797.9 1501.0,798.2 1501.9,799.2 1503.0,798.0 1505.0,799.5 1507.0,800.4 1509.0,800.2 1510.6,804.0 1513.0,802.6 1515.0,801.4 1517.0,801.9 1519.4,799.1 1521.0,800.0 1523.0,801.8 1525.0,801.0 1527.0,797.8 1529.0,796.7 1531.0,799.0 1533.0,801.1 1535.0,799.6 1536.8,799.9 1539.0,800.7 1541.0,799.2 1543.0,800.3 1545.0,800.9 1547.0,800.5 1549.0,800.5 1551.0,799.5 1553.0,800.6 1554.3,799.6 1557.0,802.7 1559.0,805.0 1561.0,802.7 1563.0,802.3 1565.0,803.8 1567.0,804.4 1569.0,804.9 1571.7,804.6 1573.0,802.5 1575.0,802.1 1577.0,803.8 1579.0,801.0 1581.0,802.8 1583.0,801.1 1585.0,801.7 1587.0,801.2 1589.2,800.8 1591.0,799.4 1593.0,795.9 1594.4,796.0 1597.0,797.9 1599.7,800.4 1601.0,801.0 1603.0,799.0 1605.0,798.0 1606.7,797.6 1609.0,799.0 1611.0,800.8 1613.0,800.0 1615.4,803.0 1617.0,801.9 1619.0,801.2 1621.0,799.9 1623.0,801.3 1624.1,801.6 1625.0,799.0 1627.0,801.6 1629.0,801.6 1631.0,799.9 1633.0,799.7 1635.0,801.3 1637.0,799.7 1639.0,797.2 1639.9,797.9 1641.0,797.5 1643.0,797.2 1645.0,794.6 1647.0,797.4 1649.0,795.7 1651.0,796.1 1653.0,795.5 1655.0,796.1 1657.5,794.5 1659.2,788.8 1661.0,792.8 1662.7,796.2 1665.0,794.5 1667.0,796.2 1669.0,795.1 1671.0,794.3 1673.0,796.4 1674.9,794.0 1677.0,795.2 1679.0,793.0 1681.0,793.3 1683.0,790.9 1685.4,790.5 1687.0,796.4 1688.9,800.3 1691.0,800.4 1693.0,800.1 1695.0,801.3 1697.0,799.7 1699.0,800.2 1701.0,801.4 1703.0,801.0 1705.0,801.4 1707.0,802.3 1709.0,802.4 1709.8,802.5 1711.0,804.3 1713.0,803.5 1715.0,803.7 1717.0,802.3 1719.0,801.7 1721.0,800.7 1723.0,801.7 1725.0,799.8 1727.3,801.2 1729.0,802.7 1731.0,803.6 1733.0,803.1 1735.0,801.3 1737.0,802.8 1739.0,801.6 1741.0,803.3 1743.0,802.5 1744.8,803.5 1747.0,805.1 1749.0,803.4 1751.0,804.7 1753.0,802.5 1755.0,801.8 1757.0,803.4 1759.0,803.7 1761.0,801.3 1762.2,801.9 1765.0,800.4 1767.0,801.6 1769.0,802.7 1771.0,801.7 1773.0,801.2 1775.0,800.4 1777.0,802.2 1779.7,802.6 1781.0,802.5 1783.0,802.4 1785.0,801.1 1787.0,804.3 1789.0,802.7 1791.0,802.8 1793.0,803.9 1795.0,801.2 1797.1,803.5 1799.0,803.2 1801.0,803.5 1803.0,804.3 1805.0,803.2 1807.0,800.7 1809.0,802.0 1811.0,802.4 1813.0,802.1 1814.6,800.5 1817.0,800.5 1819.0,803.0 1821.0,803.1 1823.0,803.1 1825.0,801.7 1827.0,805.5 1829.0,801.1 1831.0,803.9 1832.1,806.5 1833.0,804.2 1835.0,804.5 1837.0,803.0 1839.0,805.4 1841.0,802.7 1843.0,804.1 1845.0,803.9 1847.0,802.6 1849.5,804.4 1851.0,802.5 1853.0,803.7 1855.0,804.9 1857.0,805.0 1859.0,806.4 1860.0,807.1 1861.0,805.0 1863.0,803.0 1865.0,801.3 1867.0,799.7 1869.0,802.1 1871.0,802.3 1873.0,804.1 1875.7,805.2 1877.0,804.4 1879.0,806.0 1881.0,804.0 1883.0,804.9 1885.0,806.3 1887.0,803.6 1889.0,804.6 1891.0,803.0 1893.2,803.9 1895.0,803.1 1897.0,804.5 1899.0,804.5 1901.0,805.4 1901.9,806.9 1903.0,805.4 1905.0,805.3 1907.0,804.2 1909.0,803.6 1911.0,802.7 1913.0,801.3 1915.0,802.8 1917.0,803.9 1919.4,802.3 1921.0,801.1 1923.0,803.1 1925.0,800.8 1927.0,800.4 1928.1,799.7 1929.0,800.2 1931.0,801.3 1933.0,803.9 1935.0,802.1 1937.0,801.6 1939.0,802.5 1941.0,803.2 1943.0,802.1 1945.0,804.4 1947.0,805.3 1949.0,805.3 1951.0,806.0 1952.2,804.3 1955.0,804.5 1957.0,807.9 1959.0,808.1 1961.0,805.8 1963.0,808.0 1965.0,808.2 1967.0,809.1 1969.7,809.3 1971.0,808.6 1973.0,809.3 1975.0,809.3 1977.0,809.1 1979.0,807.3 1981.0,806.1 1983.0,808.3 1985.0,807.5 1987.1,809.4 1989.0,810.4 1991.0,810.5 1993.0,810.5 1995.0,811.6 1995.9,812.9 1997.0,811.2 1999.0,813.3 2001.0,813.5 2003.0,813.4 2004.6,814.9 2007.0,812.5 2009.0,814.0 2011.0,811.9 2013.0,811.9 2015.0,811.4 2017.0,812.7 2019.0,811.1 2021.0,811.9 2022.1,810.6 2023.0,813.8 2025.0,816.5 2027.3,817.2 2029.0,818.9 2031.0,818.1 2033.0,820.0 2035.0,818.2 2037.0,816.8 2039.5,820.2 2041.0,818.7 2043.0,817.9 2045.0,818.3 2047.0,817.5 2049.0,819.0 2051.0,818.2 2053.0,820.9 2055.0,820.2 2057.0,817.9 2059.0,818.7 2061.0,820.2 2063.0,819.5 2065.7,822.1 2067.0,821.7 2069.0,820.1 2071.0,819.6 2073.0,819.8 2074.4,820.1 2077.0,822.0 2079.0,822.0 2081.0,824.2 2083.2,824.1 2085.0,824.7 2087.0,822.7 2089.0,823.8 2091.0,821.2 2091.9,821.3 2093.0,822.4 2095.0,823.4 2097.0,821.8 2099.0,823.1 2101.0,824.2 2103.0,824.7 2105.0,824.0 2107.0,825.3 2109.4,825.4 2111.0,827.2 2113.0,826.4 2115.0,824.7 2117.0,823.9 2119.0,826.3 2121.0,827.5 2123.0,826.6 2125.0,827.4 2126.8,826.1 2129.0,825.2 2131.0,827.3 2133.0,826.7 2135.0,827.3 2137.0,825.2 2139.0,826.8 2141.0,815.6 2142.5,809.1 2145.0,820.7 2146.0,826.0 2147.0,826.1 2149.0,828.0 2151.0,826.9 2153.0,826.2 2155.0,826.1 2157.0,826.1 2159.0,828.8 2161.7,825.6 2163.0,826.8 2165.0,828.6 2167.0,829.4 2169.0,828.4 2171.0,829.6 2173.0,829.9 2175.0,830.4 2177.0,829.8 2179.2,831.7 2181.0,830.4 2183.0,831.8 2185.0,829.3 2187.0,831.4 2189.0,829.3 2191.0,829.2 2193.0,831.3 2195.0,830.1 2196.7,831.4 2199.0,829.2 2201.0,831.3 2203.0,829.1 2205.4,827.2 2207.0,830.2 2209.0,832.9 2210.6,832.8 2213.0,826.0 2215.0,820.8 2216.7,831.0 2219.3,829.2 2221.0,828.7" stroke="#7030A0"/>
<path d="M446.5,1000.6 447.9,1013.3 448.7,1017.8 451.0,1017.0 453.0,1014.9 455.0,1016.7 457.5,1016.4 459.0,1016.4 461.0,1013.6 463.0,1014.5 465.0,1013.4 466.2,1014.2 467.0,1012.8 469.0,1012.6 471.0,1010.2 473.0,1013.5 474.9,1009.0 477.0,1011.8 479.0,1010.1 481.0,1009.4 483.6,1009.3 485.0,1008.9 487.0,1009.4 489.0,1008.3 491.0,1009.3 492.4,1005.5 495.0,1006.3 497.0,1004.6 499.0,1005.5 501.1,1001.8 503.0,1002.4 505.0,1001.8 507.0,998.9 509.0,1000.1 509.8,998.8 511.0,998.8 513.0,997.4 515.0,994.1 517.0,992.8 518.6,992.3 521.0,993.0 523.0,992.9 525.0,991.2 527.3,991.1 529.0,990.4 531.0,990.0 533.0,989.7 535.0,989.2 536.0,991.1 537.0,987.6 539.0,985.8 540.4,985.1 543.0,984.0 544.8,984.7 547.0,984.3 549.0,984.4 551.0,981.6 553.5,983.4 555.0,980.8 557.0,980.1 559.0,979.6 561.0,978.2 562.2,977.9 565.0,976.4 567.0,975.8 569.0,975.8 570.9,974.1 573.0,975.7 575.0,973.1 577.0,972.0 579.7,974.5 581.0,971.3 583.0,968.6 584.0,970.8 585.0,967.5 587.0,966.5 588.4,962.9 591.0,963.2 593.0,961.6 595.0,961.2 597.1,961.9 599.0,961.7 601.5,961.0 603.0,962.4 605.0,958.5 605.9,960.4 607.0,958.8 609.0,959.2 611.0,957.9 613.0,957.9 614.6,958.6 617.0,957.9 619.0,958.9 621.0,958.0 623.3,959.7 625.0,958.4 627.0,958.2 629.0,958.9 631.0,958.0 632.1,957.3 633.0,957.1 635.0,956.8 637.0,957.7 639.0,957.1 641.0,956.4 643.0,956.5 645.0,954.9 647.0,955.6 649.5,953.3 651.0,956.1 653.0,954.8 655.0,954.9 657.0,955.3 659.0,954.7 661.0,954.5 663.0,955.9 665.0,954.9 667.0,953.8 669.0,954.9 671.0,952.4 673.0,955.5 675.0,953.4 677.0,953.3 679.0,955.2 681.0,954.8 683.0,952.5 684.4,952.7 687.0,952.7 689.0,952.9 691.0,950.7 693.0,950.5 695.0,951.2 697.0,949.9 699.0,950.0 701.0,949.4 701.9,947.5 703.0,947.5 705.0,945.2 707.0,947.1 709.0,948.2 711.0,945.2 713.0,947.1 715.0,946.4 717.0,944.8 719.4,944.3 721.0,944.1 723.0,942.9 725.0,943.1 727.0,943.1 729.0,943.4 731.0,943.3 733.0,941.5 735.0,942.7 736.8,940.9 739.0,941.5 741.0,942.0 743.0,941.6 745.0,941.5 747.0,941.9 749.0,941.1 751.0,941.0 753.0,941.4 754.3,942.6 757.0,942.5 759.0,945.2 761.0,944.2 763.0,941.7 765.0,945.0 767.0,947.8 769.0,946.8 771.7,947.3 773.0,946.8 775.0,948.8 777.0,948.2 779.0,947.7 781.0,947.3 783.0,948.1 785.0,947.3 787.0,945.0 789.2,946.8 791.0,946.3 793.0,946.1 795.0,947.1 797.0,946.4 799.0,943.6 801.0,948.2 803.0,947.7 805.0,946.7 806.7,946.5 809.0,947.3 811.0,946.0 813.0,947.8 815.0,947.5 817.0,947.6 819.0,947.2 821.0,947.6 823.0,949.6 824.1,950.0 825.0,949.3 827.0,949.1 829.0,948.6 831.0,950.5 833.0,951.7 835.0,948.8 837.0,951.9 839.0,948.9 839.9,950.9 841.0,951.5 843.0,949.4 845.0,949.0 847.0,950.4 849.0,950.8 851.0,949.1 853.0,950.6 855.0,948.2 857.5,950.4 859.0,948.9 861.0,949.2 863.0,949.8 865.0,949.7 867.0,951.4 869.0,952.0 871.0,950.5 873.0,950.0 874.9,949.2 877.0,949.5 879.0,950.2 881.0,950.0 883.0,949.9 885.0,949.9 887.0,950.3 889.0,948.3 891.0,948.5 892.4,950.6 895.0,950.9 897.0,949.9 899.0,952.1 901.0,950.6 903.0,951.4 905.0,950.2 907.0,953.3 909.0,952.8 909.8,954.1 911.0,953.8 913.0,953.3 915.0,953.4 917.0,954.6 919.0,953.3 921.0,953.4 923.0,953.7 925.0,954.6 927.3,954.8 929.0,956.1 931.0,954.6 933.0,956.3 935.0,954.8 937.0,956.4 939.0,956.4 941.0,958.4 943.0,957.7 944.8,957.0 947.0,957.8 949.0,957.3 951.0,956.5 953.0,956.3 955.0,955.4 957.0,958.9 959.0,956.1 961.0,956.8 962.2,954.5 965.0,954.6 967.0,955.5 969.0,955.5 971.0,956.5 973.0,954.7 975.0,956.2 977.0,957.2 979.7,954.8 981.0,956.8 983.0,955.4 985.0,957.1 987.0,957.5 989.0,959.3 991.0,957.2 993.0,958.5 995.0,959.8 997.1,958.0 999.0,959.0 1001.0,957.9 1003.0,957.9 1005.0,959.1 1007.0,958.9 1009.0,960.5 1011.0,959.1 1013.0,958.9 1014.6,957.2 1017.0,956.7 1019.0,956.9 1021.0,954.2 1023.0,957.8 1025.0,955.2 1027.0,954.5 1029.0,954.8 1031.0,955.8 1032.1,956.0 1033.0,954.3 1035.0,954.9 1037.0,954.2 1039.0,953.1 1041.0,954.0 1043.0,953.7 1045.0,951.9 1047.0,954.4 1049.5,951.5 1051.0,953.0 1053.0,951.4 1055.0,951.4 1057.0,951.2 1059.0,952.3 1061.0,950.0 1063.0,950.8 1065.0,952.2 1067.0,949.7 1069.0,950.8 1071.0,951.9 1073.0,951.0 1075.0,952.5 1077.0,951.7 1079.0,953.5 1081.0,953.3 1083.0,952.7 1084.4,955.3 1087.0,954.3 1089.0,954.5 1091.0,954.3 1093.0,955.1 1095.0,955.9 1097.0,956.6 1099.0,957.9 1101.0,955.9 1101.9,957.0 1103.0,958.6 1105.0,957.7 1107.0,958.0 1109.0,959.3 1111.0,958.2 1113.0,958.4 1115.0,958.0 1117.0,959.9 1119.4,959.3 1121.0,957.9 1123.0,959.7 1125.0,958.5 1127.0,961.2 1129.0,961.3 1131.0,961.0 1133.0,961.3 1135.0,960.4 1136.8,963.4 1139.0,963.0 1141.0,963.3 1143.0,964.9 1145.0,964.0 1147.0,964.6 1149.0,965.0 1151.0,964.8 1153.0,969.1 1154.3,966.8 1157.0,967.6 1159.0,969.5 1161.0,966.2 1163.0,970.0 1165.0,970.7 1167.0,970.4 1169.0,972.6 1171.7,971.0 1173.0,973.4 1175.0,974.8 1177.0,972.1 1179.0,973.4 1181.0,975.2 1183.0,975.8 1185.0,975.7 1187.0,977.2 1189.2,977.6 1191.0,976.2 1193.0,977.8 1195.0,976.9 1197.0,976.4 1199.0,976.3 1201.0,980.1 1203.0,979.2 1205.0,981.6 1206.7,978.4 1209.0,980.5 1211.0,982.0 1213.0,982.3 1215.0,983.7 1217.0,984.2 1219.0,984.2 1221.0,983.3 1223.0,985.5 1224.1,988.6 1225.0,987.8 1227.0,988.9 1229.0,987.4 1231.0,988.2 1233.0,988.0 1235.0,989.7 1237.0,989.8 1239.0,990.7 1239.9,992.2 1241.0,989.7 1243.0,991.5 1245.0,989.5 1247.0,992.2 1248.7,990.8 1251.0,991.7 1253.0,992.3 1255.0,994.2 1257.5,993.0 1259.0,993.1 1261.0,993.3 1263.0,995.5 1265.0,995.2 1266.2,996.0 1267.0,998.5 1269.0,1004.2 1271.4,1008.9 1273.0,1004.4 1274.9,998.3 1277.0,994.4 1279.0,996.6 1281.0,996.8 1283.0,993.4 1285.0,994.0 1287.0,991.4 1288.9,992.5 1291.0,993.4 1292.4,995.1 1295.0,994.8 1297.0,995.6 1299.0,996.6 1301.0,997.1 1303.0,997.9 1305.0,999.0 1307.0,998.8 1309.0,1000.4 1309.8,1001.4 1311.0,998.8 1313.0,1001.7 1315.0,1001.1 1317.0,1001.2 1319.0,1001.3 1321.0,1002.2 1323.0,1002.7 1325.0,1004.2 1327.3,1003.1 1329.0,1006.2 1331.0,1005.4 1333.0,1007.9 1335.0,1009.3 1336.0,1007.5 1337.0,1010.4 1339.0,1012.7 1341.0,1011.3 1343.0,1013.5 1344.8,1013.9 1347.0,1014.4 1349.0,1014.5 1351.0,1014.5 1353.0,1016.0 1355.0,1016.5 1357.0,1015.9 1359.0,1017.7 1361.0,1017.6 1362.2,1017.4 1365.0,1015.8 1367.0,1018.4 1369.0,1017.7 1371.0,1014.1 1373.0,1015.1 1375.0,1015.6 1377.0,1016.9 1379.7,1017.1 1381.0,1015.4 1383.0,1015.8 1385.0,1016.0 1387.0,1013.8 1389.0,1015.5 1391.0,1014.4 1393.0,1014.7 1395.0,1014.3 1397.1,1012.9 1399.0,1013.1 1401.0,1014.1 1403.0,1014.2 1405.0,1013.8 1407.0,1015.2 1409.0,1013.7 1411.0,1012.9 1413.0,1013.8 1414.6,1013.9 1417.0,1014.2 1419.0,1015.7 1421.0,1015.3 1423.0,1016.0 1425.0,1015.8 1427.0,1015.2 1429.0,1016.6 1431.0,1015.5 1432.1,1016.1 1433.0,1014.5 1435.0,1014.8 1437.0,1013.6 1439.0,1013.4 1440.8,1014.2 1443.0,1014.3 1445.0,1012.5 1447.0,1011.1 1449.5,1011.4 1451.0,1010.8 1453.0,1010.0 1455.0,1010.6 1457.0,1010.4 1459.0,1010.0 1461.0,1012.0 1463.0,1010.1 1465.0,1010.1 1467.0,1011.3 1469.0,1010.7 1471.0,1011.1 1473.0,1012.2 1475.0,1014.3 1477.0,1015.0 1479.0,1015.7 1481.0,1015.8 1483.0,1016.1 1484.4,1018.5 1487.0,1016.7 1489.0,1018.3 1491.0,1017.6 1493.2,1018.9 1495.0,1019.4 1497.0,1021.0 1499.0,1017.1 1501.0,1021.5 1501.9,1019.3 1503.0,1020.2 1505.0,1020.1 1507.0,1017.9 1509.0,1018.0 1510.6,1018.1 1513.0,1018.4 1515.0,1018.6 1517.0,1020.4 1519.4,1021.2 1521.0,1019.9 1523.0,1023.2 1525.0,1022.5 1527.0,1020.2 1529.0,1022.2 1531.0,1025.2 1533.0,1025.4 1535.0,1024.5 1536.8,1022.9 1539.0,1024.6 1541.0,1026.1 1543.0,1025.6 1545.0,1025.1 1547.0,1024.9 1549.0,1026.7 1551.0,1025.8 1553.0,1026.6 1554.3,1026.9 1557.0,1027.5 1559.0,1025.6 1561.0,1025.3 1563.0,1022.8 1565.0,1026.3 1567.0,1026.7 1569.0,1026.4 1571.7,1025.0 1573.0,1026.8 1575.0,1027.7 1577.0,1030.0 1579.0,1028.7 1581.0,1029.2 1583.0,1029.5 1585.7,1030.3 1587.0,1033.4 1589.2,1043.0 1591.0,1039.6 1593.0,1037.2 1594.4,1034.7 1597.0,1035.2 1599.0,1034.1 1601.0,1035.2 1603.0,1034.2 1605.0,1037.2 1606.7,1034.6 1609.0,1036.7 1611.0,1035.0 1613.0,1031.3 1615.0,1032.7 1617.0,1031.6 1619.0,1028.6 1621.0,1030.0 1623.0,1028.5 1624.1,1028.5 1625.0,1027.0 1627.0,1027.1 1629.0,1026.9 1631.0,1025.6 1633.0,1024.5 1634.6,1024.4 1637.0,1025.8 1639.0,1028.9 1639.9,1026.8 1641.0,1030.9 1643.0,1029.5 1645.0,1030.0 1647.0,1030.4 1649.0,1028.4 1651.0,1032.0 1653.0,1028.6 1655.0,1030.3 1657.5,1030.2 1659.0,1030.7 1661.0,1028.8 1663.0,1026.8 1665.0,1028.0 1667.0,1024.6 1669.7,1026.1 1671.0,1026.5 1673.0,1029.4 1675.0,1028.4 1677.0,1029.1 1679.0,1029.7 1681.0,1030.4 1683.6,1031.9 1685.0,1033.6 1687.0,1032.5 1689.0,1034.4 1691.0,1033.9 1692.4,1035.8 1695.0,1035.8 1697.0,1034.2 1699.0,1034.7 1701.0,1035.2 1703.0,1035.6 1705.0,1035.6 1707.0,1034.4 1709.0,1033.3 1709.8,1032.6 1711.0,1035.2 1713.0,1036.2 1715.0,1035.6 1717.0,1037.2 1719.0,1035.6 1721.0,1036.0 1723.0,1038.4 1725.0,1036.2 1727.3,1038.3 1729.0,1038.6 1731.0,1038.9 1733.0,1041.1 1735.0,1039.1 1737.0,1040.2 1739.0,1039.1 1741.0,1040.7 1743.0,1041.9 1744.8,1042.5 1747.0,1042.5 1749.0,1042.9 1751.0,1041.8 1753.0,1040.3 1755.0,1042.3 1757.0,1042.5 1759.0,1044.2 1761.0,1047.9 1762.2,1052.5 1765.0,1051.5 1767.0,1051.4 1769.0,1050.8 1771.0,1050.0 1773.0,1049.2 1775.0,1050.1 1777.0,1049.1 1779.7,1048.6 1781.0,1049.4 1783.0,1049.9 1785.0,1051.5 1787.0,1050.3 1789.0,1054.3 1791.0,1051.4 1793.0,1052.6 1795.0,1054.6 1797.1,1053.4 1799.0,1052.7 1801.0,1052.0 1803.0,1047.8 1805.0,1049.0 1805.9,1048.1 1807.0,1048.8 1809.0,1049.7 1811.0,1049.9 1813.0,1050.9 1815.0,1050.9 1817.0,1050.6 1819.0,1049.6 1821.0,1050.8 1823.3,1048.9 1825.0,1050.6 1827.0,1053.0 1829.0,1053.2 1831.0,1051.9 1833.0,1053.7 1835.0,1056.1 1837.0,1056.7 1839.0,1058.0 1840.8,1056.0 1843.0,1057.1 1845.0,1058.8 1847.0,1058.6 1849.5,1060.4 1851.0,1059.2 1853.0,1057.8 1854.8,1055.9 1857.0,1058.2 1859.0,1059.8 1861.0,1060.6 1863.0,1060.7 1865.0,1064.6 1867.0,1065.0 1869.0,1065.5 1871.0,1065.5 1873.0,1064.0 1875.0,1066.5 1877.0,1065.6 1879.0,1065.3 1881.0,1068.2 1883.0,1066.9 1884.4,1067.7 1887.0,1068.7 1889.0,1069.7 1891.0,1066.5 1893.0,1067.9 1895.0,1069.6 1897.0,1068.6 1899.0,1066.3 1901.0,1070.0 1901.9,1070.2 1903.0,1071.2 1905.0,1071.5 1907.0,1071.6 1909.0,1073.1 1910.6,1073.4 1913.0,1073.5 1915.0,1074.6 1917.0,1075.1 1919.4,1074.2 1921.0,1076.1 1923.0,1075.6 1925.0,1075.3 1927.0,1071.5 1929.0,1074.1 1931.0,1073.6 1933.0,1072.5 1935.0,1073.9 1937.0,1071.5 1939.0,1074.0 1941.0,1072.9 1943.0,1071.8 1945.0,1073.5 1947.0,1072.2 1949.0,1071.9 1951.0,1070.0 1952.2,1071.6 1955.0,1075.3 1957.0,1077.0 1959.0,1076.6 1960.9,1081.2 1963.0,1081.3 1965.0,1080.3 1967.0,1078.8 1969.0,1077.5 1971.0,1077.9 1973.0,1078.0 1975.0,1078.7 1977.0,1078.8 1978.4,1077.3 1981.0,1078.0 1983.0,1080.4 1985.0,1080.7 1987.1,1084.7 1989.0,1081.8 1991.0,1083.2 1993.0,1083.3 1995.0,1081.1 1997.0,1082.8 1999.0,1081.4 2001.0,1080.4 2003.0,1080.0 2004.6,1080.8 2007.0,1072.7 2008.1,1065.7 2009.0,1067.9 2011.0,1066.4 2013.0,1065.2 2015.0,1065.2 2017.0,1064.6 2018.6,1064.0 2021.0,1068.5 2022.1,1068.4 2023.0,1070.4 2025.0,1067.3 2027.0,1063.8 2029.0,1060.4 2030.8,1060.6 2033.0,1061.7 2035.0,1064.3 2037.0,1065.7 2039.5,1068.6 2041.0,1067.6 2043.0,1069.9 2045.0,1070.1 2047.0,1071.6 2048.2,1074.4 2051.0,1072.8 2053.0,1073.0 2055.0,1072.8 2057.0,1073.6 2059.0,1074.0 2061.0,1073.4 2063.0,1072.4 2065.7,1074.1 2067.0,1072.8 2069.0,1073.1 2071.0,1073.6 2073.0,1073.5 2075.0,1070.8 2077.0,1074.7 2079.0,1073.6 2081.0,1074.7 2083.0,1075.1 2085.0,1071.5 2087.0,1071.7 2089.0,1072.4 2091.0,1073.0 2091.9,1071.5 2093.0,1071.4 2095.0,1072.3 2097.0,1069.8 2099.0,1070.4 2101.0,1070.8 2103.0,1068.9 2105.0,1069.5 2107.0,1068.1 2109.4,1066.0 2111.0,1066.6 2113.0,1066.5 2115.0,1065.8 2117.0,1065.7 2119.0,1065.5 2121.0,1064.9 2123.0,1064.3 2125.0,1063.2 2126.8,1062.9 2129.0,1061.9 2131.0,1060.9 2133.0,1062.1 2135.0,1058.0 2137.0,1059.3 2139.0,1056.6 2141.0,1056.9 2143.0,1057.5 2144.3,1055.9 2147.0,1058.0 2149.0,1055.9 2151.0,1056.8 2153.0,1056.8 2155.0,1057.7 2157.0,1057.7 2159.0,1057.9 2161.7,1058.8 2163.0,1061.4 2165.2,1063.2 2167.0,1061.0 2169.0,1058.4 2170.5,1056.2 2173.0,1055.6 2175.0,1056.1 2177.0,1057.3 2179.0,1055.4 2181.0,1058.1 2183.0,1057.1 2185.0,1056.7 2187.0,1057.2 2187.9,1058.4 2189.0,1058.8 2191.0,1059.8 2193.0,1062.5 2195.0,1064.2 2197.0,1061.7 2199.0,1065.0 2200.1,1064.0 2201.0,1063.1 2203.0,1063.2 2205.0,1064.1 2207.0,1062.0 2209.0,1061.1 2211.0,1062.2 2213.0,1060.6 2214.1,1059.6 2215.0,1061.5 2217.0,1060.2 2219.3,1059.0 2221.0,1058.6" stroke="#FF0000"/>
<path d="M447.0,670.9 449.0,669.1 451.0,668.8 453.0,668.2 455.0,667.5 457.5,664.9 459.0,663.0 461.0,661.1 463.0,661.1 465.0,660.4 466.2,658.0 467.0,656.4 469.0,656.3 471.0,658.4 473.0,656.6 474.9,654.3 477.0,654.7 479.0,652.4 481.0,651.8 483.6,650.3 485.0,649.5 487.0,650.0 489.0,648.6 491.0,647.3 492.4,647.7 495.0,648.4 497.0,646.1 499.0,647.7 501.1,647.2 503.0,647.4 505.0,645.7 507.0,646.4 509.0,645.8 509.8,645.2 511.0,644.0 513.0,643.9 515.0,642.4 517.0,641.3 518.6,642.3 521.0,639.0 523.0,639.7 525.0,637.6 527.3,633.1 529.0,634.0 531.0,631.0 533.0,630.5 535.0,629.0 536.0,626.1 537.0,627.7 539.0,627.2 541.0,628.1 543.0,625.5 544.8,627.1 547.0,624.6 549.0,624.7 551.0,623.6 553.5,625.2 555.0,623.4 557.0,624.1 559.0,621.1 561.0,620.1 562.2,619.3 565.0,617.6 567.0,617.9 569.0,619.2 570.9,617.2 573.0,617.6 575.0,617.2 577.0,617.6 579.7,616.4 581.0,616.9 583.0,617.7 585.0,617.9 587.0,617.3 588.4,619.4 591.0,616.2 593.0,615.5 595.0,614.6 597.1,616.0 599.0,614.1 601.0,612.9 603.0,612.1 605.0,613.1 605.9,611.3 607.0,611.2 609.0,613.3 611.0,611.7 613.0,612.8 614.6,613.2 617.0,612.6 619.0,612.8 621.0,614.0 623.3,611.9 625.0,610.6 627.0,609.4 629.0,610.5 631.0,609.7 632.1,610.0 633.0,609.4 635.0,609.6 637.0,609.5 639.0,609.9 640.8,610.8 643.0,610.5 645.0,611.2 647.0,613.2 649.5,612.0 651.0,609.9 653.0,613.2 655.0,611.9 657.0,610.6 658.2,612.4 661.0,612.3 663.0,612.3 665.0,612.9 667.0,613.1 669.0,612.8 671.0,612.4 673.0,609.6 675.7,608.4 677.0,609.8 679.0,606.5 681.0,607.7 683.0,607.0 684.4,606.1 687.0,606.1 689.0,607.1 691.0,607.6 693.2,606.6 695.0,607.0 697.0,607.5 699.0,606.9 701.0,607.2 701.9,606.7 703.0,606.6 705.0,607.8 707.0,606.4 709.0,605.7 710.6,606.1 713.0,603.1 715.0,602.4 717.0,602.4 719.4,600.8 721.0,601.9 723.0,600.5 725.0,599.3 727.0,602.9 728.1,602.1 729.0,600.0 731.0,602.4 733.0,601.1 735.0,599.2 736.8,600.6 739.0,600.3 741.0,602.2 743.0,599.6 745.5,599.9 747.0,599.4 749.0,598.7 751.0,597.6 753.0,598.1 754.3,598.6 757.0,597.6 759.0,595.7 761.0,595.0 763.0,595.9 765.0,594.7 767.0,594.4 769.0,592.9 771.7,596.0 773.0,595.2 775.0,593.7 777.0,596.0 779.0,596.8 780.5,593.4 783.0,596.3 785.0,597.2 787.0,599.1 789.2,599.2 791.0,598.9 793.0,598.8 795.0,600.6 797.0,600.7 797.9,597.9 799.0,597.6 801.0,601.4 803.0,597.9 805.0,598.5 806.7,599.3 809.0,600.7 811.0,602.1 813.0,602.2 815.4,601.9 817.0,603.3 819.0,603.0 821.0,604.7 823.0,602.8 824.1,601.4 825.0,601.6 827.0,603.9 829.0,601.7 831.0,600.0 832.8,601.3 835.0,602.2 837.0,603.6 839.0,601.6 840.0,603.4 841.0,603.5 843.0,601.8 845.0,602.1 847.0,603.8 848.7,603.6 851.0,602.8 853.0,602.2 855.0,603.0 857.5,601.8 859.0,601.7 861.0,600.7 863.0,601.4 865.0,601.1 866.2,603.8 867.0,600.5 869.0,601.2 871.0,600.4 873.0,598.1 874.9,598.7 877.0,595.4 879.0,597.6 881.0,598.4 883.6,595.1 885.0,596.4 887.0,598.6 889.0,597.3 891.0,596.4 892.4,597.2 895.0,597.3 897.0,598.7 899.0,598.7 901.1,598.1 903.0,597.4 905.0,597.6 907.0,598.6 909.0,597.2 909.8,597.3 911.0,596.4 913.0,595.1 915.0,595.4 917.0,596.6 918.6,595.9 921.0,595.9 923.0,595.9 925.0,598.5 927.3,598.9 929.0,598.8 931.0,598.6 933.0,599.0 935.0,598.8 936.0,599.4 937.0,599.3 939.0,599.7 941.0,599.2 943.0,598.1 944.8,598.4 947.0,598.7 949.0,597.7 951.0,598.3 953.5,598.7 955.0,596.6 957.0,595.4 959.0,598.2 961.0,596.8 962.2,597.4 965.0,596.4 967.0,600.3 969.0,600.1 970.9,600.0 973.0,599.6 975.0,599.9 977.0,599.4 979.7,599.0 981.0,598.3 983.0,600.9 985.0,599.8 987.0,600.1 988.4,600.3 991.0,598.6 993.0,602.1 995.0,601.8 997.1,602.5 999.0,603.6 1001.0,603.3 1003.0,606.0 1005.0,605.2 1005.9,605.4 1007.0,605.5 1009.0,606.7 1011.0,607.5 1013.0,606.4 1014.6,605.6 1017.0,607.5 1019.0,604.8 1021.0,606.4 1023.3,604.5 1025.0,603.8 1027.0,603.9 1029.0,605.0 1031.0,605.4 1032.1,604.3 1033.0,605.5 1035.0,606.6 1037.0,604.3 1039.0,603.4 1040.8,603.5 1043.0,603.1 1045.0,603.9 1047.0,603.8 1049.5,603.2 1051.0,604.8 1053.0,601.2 1055.0,602.1 1057.0,605.0 1058.2,603.8 1061.0,602.4 1063.5,601.5 1065.0,604.3 1067.0,605.1 1069.0,606.0 1071.0,606.1 1073.0,608.7 1075.7,609.9 1077.0,610.7 1079.0,611.9 1081.0,613.8 1083.0,614.7 1084.4,616.7 1087.0,615.8 1089.0,618.0 1091.0,621.0 1093.2,620.3 1095.0,622.7 1097.0,624.1 1099.0,625.6 1101.0,626.5 1101.9,625.0 1103.0,626.2 1105.0,626.3 1107.0,625.3 1109.0,626.6 1110.6,626.0 1113.0,626.5 1115.0,629.2 1117.0,629.7 1119.4,630.0 1121.0,630.4 1123.0,631.6 1125.0,632.6 1127.0,633.4 1128.1,634.2 1129.0,634.7 1131.0,637.5 1133.0,639.6 1135.0,641.5 1136.8,642.3 1139.0,643.2 1141.0,645.0 1143.0,645.2 1145.5,646.4 1147.0,644.4 1149.0,644.8 1151.0,648.4 1153.0,649.0 1154.3,650.4 1157.0,651.4 1159.0,652.1 1161.0,653.1 1163.0,652.9 1165.0,657.2 1166.5,657.2 1169.0,656.2 1171.7,653.6 1173.0,653.4 1175.0,653.6 1177.0,651.9 1179.0,651.6 1180.5,650.8 1183.0,651.5 1185.0,653.8 1187.0,652.0 1189.2,653.7 1191.0,653.4 1193.0,653.3 1195.0,653.3 1197.0,651.5 1197.9,652.9 1199.0,654.4 1201.0,652.8 1203.0,654.0 1205.0,654.0 1206.7,655.5 1209.0,654.3 1211.0,657.2 1213.0,655.4 1215.4,654.5 1217.0,658.6 1219.0,658.8 1221.0,659.4 1223.0,660.4 1224.1,660.0 1225.0,660.6 1227.0,662.6 1229.0,663.8 1231.0,664.8 1232.8,665.0 1235.0,666.2 1237.0,668.2 1239.0,671.2 1239.9,672.3 1241.0,670.4 1243.0,670.1 1245.0,671.6 1247.0,670.9 1249.0,670.7 1251.0,668.5 1253.0,669.2 1255.0,668.9 1257.5,669.3 1259.0,667.7 1261.0,671.1 1263.0,670.5 1265.0,671.1 1266.2,669.7 1267.0,670.2 1269.0,670.0 1271.0,665.5 1273.0,665.7 1274.9,664.6 1277.0,663.3 1279.0,664.9 1281.0,663.9 1283.0,665.5 1285.0,664.9 1287.0,664.7 1289.0,666.6 1291.0,665.5 1292.4,666.1 1295.0,662.5 1297.0,662.3 1299.0,662.9 1301.1,662.2 1303.0,661.2 1305.0,662.0 1307.0,660.2 1309.0,661.5 1309.8,660.1 1311.0,661.5 1313.0,660.5 1315.0,660.1 1317.0,660.6 1319.0,662.2 1321.0,659.1 1323.0,659.3 1325.0,660.8 1327.3,659.1 1329.0,661.5 1331.0,660.1 1333.0,660.2 1335.0,660.6 1336.0,662.1 1337.0,661.2 1339.0,661.5 1341.0,661.6 1343.0,660.2 1344.8,661.3 1347.0,664.7 1349.0,665.1 1350.0,665.3 1351.0,666.7 1353.5,668.6 1355.0,670.1 1357.0,669.6 1359.0,671.7 1361.0,671.4 1362.2,672.4 1365.0,673.6 1367.0,673.2 1369.0,674.6 1370.9,674.8 1373.0,675.7 1375.0,677.7 1377.0,675.9 1379.7,677.1 1381.0,679.6 1383.0,680.3 1385.0,681.8 1387.0,680.9 1388.4,681.3 1391.0,680.1 1393.0,682.1 1395.0,682.5 1397.1,681.2 1399.0,682.3 1401.0,684.0 1403.0,685.4 1405.0,683.2 1405.9,686.7 1407.0,687.7 1409.0,688.9 1411.0,691.0 1413.0,692.7 1414.6,692.6 1417.0,695.2 1419.0,695.5 1421.0,695.8 1423.3,698.1 1425.0,699.6 1427.0,696.8 1429.0,696.8 1431.0,697.0 1432.1,700.8 1433.0,699.2 1435.0,700.8 1437.0,701.5 1439.0,702.7 1440.8,702.9 1443.0,704.5 1444.3,704.3 1447.0,709.3 1449.5,717.0 1451.0,718.2 1453.0,720.1 1455.0,721.5 1457.0,723.6 1458.2,724.6 1461.0,725.1 1463.0,726.0 1465.0,724.1 1467.0,725.3 1469.0,728.8 1471.0,729.8 1473.0,731.3 1475.7,731.7 1477.0,732.5 1479.0,736.1 1481.0,736.7 1483.0,737.1 1484.4,737.7 1487.0,738.4 1489.0,742.1 1491.0,744.4 1493.2,746.7 1495.0,746.2 1497.0,747.2 1499.0,747.5 1501.0,751.0 1501.9,752.0 1503.0,750.0 1505.0,751.5 1507.0,751.9 1509.0,751.9 1510.6,750.4 1513.0,753.5 1515.0,755.3 1517.0,754.0 1519.4,755.6 1521.0,753.8 1523.0,759.2 1525.0,759.2 1527.0,759.5 1528.1,759.6 1529.0,759.9 1531.0,761.9 1533.0,763.0 1535.0,764.5 1536.8,766.0 1539.0,767.0 1541.0,769.2 1543.0,767.0 1545.5,769.8 1547.0,769.5 1549.0,769.8 1551.0,769.3 1553.0,773.1 1554.3,772.0 1557.0,772.8 1559.0,774.4 1561.0,773.3 1563.0,774.8 1565.0,775.3 1567.0,776.7 1569.0,777.6 1571.7,776.5 1573.0,778.9 1575.0,778.9 1577.0,780.1 1579.0,780.8 1580.5,782.5 1583.0,782.0 1585.0,784.7 1587.0,786.8 1589.2,786.7 1591.0,789.0 1593.0,786.2 1595.0,787.2 1597.0,786.5 1597.9,786.3 1599.0,786.3 1601.0,787.7 1603.0,788.9 1605.0,789.0 1606.7,791.3 1609.0,792.7 1611.0,790.2 1613.0,793.2 1615.4,793.3 1617.0,792.8 1619.0,794.5 1621.0,792.6 1623.0,791.1 1624.1,790.6 1625.0,788.2 1627.0,790.9 1629.0,789.2 1631.0,789.9 1633.0,789.6 1635.0,790.2 1637.0,791.1 1639.0,789.8 1639.9,790.0 1641.0,788.0 1643.0,787.8 1645.0,787.2 1647.0,784.1 1649.0,786.7 1651.0,783.0 1653.0,781.6 1655.0,783.6 1657.5,783.0 1659.0,779.6 1661.0,779.0 1663.0,782.0 1665.0,778.3 1667.0,775.5 1669.0,776.2 1671.0,778.1 1673.0,776.1 1674.9,775.5 1677.0,775.9 1679.0,775.2 1681.0,774.1 1683.0,772.8 1685.0,774.7 1687.0,773.0 1689.0,774.0 1691.0,775.7 1692.4,774.4 1695.0,773.7 1697.0,773.5 1699.0,773.9 1701.1,773.9 1703.0,772.2 1705.0,774.2 1707.0,776.2 1709.0,775.7 1711.0,774.7 1713.0,775.3 1715.1,774.4 1717.0,774.7 1719.0,776.1 1721.0,773.5 1723.0,771.7 1725.0,771.0 1727.3,770.3 1729.0,770.3 1731.0,770.0 1733.0,769.6 1735.0,771.0 1737.0,771.9 1739.0,769.8 1741.0,769.8 1743.0,771.6 1744.8,768.9 1747.0,769.6 1749.0,769.6 1751.0,769.9 1753.0,769.3 1755.0,768.5 1757.0,769.5 1759.0,767.8 1761.0,767.0 1762.2,766.6 1765.0,769.6 1767.0,767.2 1769.0,769.5 1771.0,769.9 1773.0,770.1 1775.0,769.3 1776.2,769.0 1777.0,770.3 1779.0,771.2 1781.0,772.1 1783.0,776.2 1784.9,775.6 1787.0,776.4 1789.0,773.3 1791.0,770.6 1793.6,769.1 1795.0,769.8 1797.0,767.0 1799.0,767.3 1801.0,767.1 1803.0,768.1 1805.0,768.2 1805.9,767.8 1807.0,767.3 1809.0,767.9 1811.0,770.0 1813.0,770.3 1815.0,769.7 1817.0,768.7 1819.0,771.0 1821.0,771.1 1823.3,771.5 1825.0,773.7 1827.0,773.6 1829.0,772.6 1831.0,773.4 1832.1,776.1 1833.0,775.7 1835.0,778.0 1837.0,778.6 1839.0,779.4 1840.8,782.1 1843.0,783.5 1845.0,782.3 1847.0,781.0 1849.0,781.9 1851.0,781.8 1853.0,782.6 1855.0,783.5 1857.0,784.6 1858.2,782.9 1861.0,781.7 1863.0,781.8 1865.0,781.4 1867.0,780.5 1869.0,781.5 1871.0,782.0 1873.0,781.3 1875.0,783.5 1877.0,783.1 1879.0,783.0 1881.0,785.0 1883.0,784.5 1884.4,787.1 1887.0,787.9 1889.0,789.0 1891.0,789.8 1893.2,791.9 1895.0,793.7 1897.0,792.8 1899.0,794.8 1901.0,792.5 1903.0,795.4 1905.0,796.7 1907.0,796.8 1909.0,797.0 1910.6,798.5 1913.0,798.6 1915.0,800.0 1917.0,802.7 1919.4,805.7 1921.0,805.4 1923.0,805.3 1925.0,806.4 1927.0,807.1 1929.0,805.9 1931.0,804.9 1933.0,807.2 1935.0,807.3 1937.0,808.8 1939.0,808.7 1941.0,809.6 1943.0,811.5 1945.0,811.7 1947.0,812.1 1949.0,814.3 1951.0,812.8 1952.2,813.2 1955.0,816.0 1957.0,814.4 1959.0,814.7 1961.0,818.4 1963.0,818.2 1965.0,819.3 1967.0,820.1 1969.7,821.5 1971.0,820.8 1973.0,822.2 1975.0,822.1 1977.0,824.4 1979.0,825.5 1981.0,825.8 1983.0,827.9 1985.0,831.2 1987.1,828.2 1989.0,830.7 1991.0,831.4 1993.0,832.1 1995.0,830.9 1997.0,833.5 1999.0,833.5 2001.0,833.4 2003.0,833.7 2004.6,834.8 2007.0,836.5 2009.0,837.2 2011.0,839.4 2013.3,837.7 2015.0,840.0 2017.0,840.6 2019.0,843.4 2021.0,844.4 2022.1,844.5 2023.0,844.2 2025.0,845.8 2027.0,847.8 2029.0,850.0 2031.0,850.3 2033.0,849.3 2035.0,851.1 2037.0,852.6 2039.5,853.7 2041.0,855.3 2043.0,858.0 2045.0,859.4 2047.0,860.5 2048.2,860.5 2051.0,865.8 2053.5,867.7 2055.0,870.4 2057.0,872.3 2059.0,871.1 2061.0,872.7 2063.0,872.9 2065.0,875.5 2067.0,874.4 2069.0,872.5 2071.0,875.2 2073.0,875.6 2074.4,875.2 2077.0,875.2 2079.0,876.3 2081.0,876.4 2083.0,876.3 2085.0,874.9 2087.0,875.8 2089.0,874.6 2091.0,874.7 2091.9,875.7 2093.0,875.5 2095.0,876.8 2097.0,880.3 2099.0,878.9 2100.6,878.0 2103.0,877.2 2105.0,878.9 2107.0,878.7 2109.4,878.4 2111.0,881.5 2113.0,880.5 2115.0,881.6 2117.0,884.4 2119.0,881.8 2121.0,881.9 2123.0,882.3 2125.0,881.9 2126.8,881.5 2129.0,882.4 2131.0,884.1 2133.0,883.0 2135.0,882.2 2137.0,882.6 2139.0,883.1 2141.0,884.5 2143.0,885.2 2144.3,885.4 2147.0,887.2 2149.0,886.7 2151.0,888.5 2153.0,888.8 2155.0,891.7 2156.5,891.0 2159.0,893.7 2161.7,890.4 2163.0,890.8 2165.0,892.6 2167.0,891.4 2169.0,893.4 2171.0,891.7 2173.0,890.4 2175.0,891.5 2177.0,890.9 2179.2,892.7 2181.0,892.4 2183.0,891.1 2185.0,889.6 2187.0,889.7 2189.0,890.3 2191.0,888.0 2193.0,887.6 2195.0,888.9 2196.7,888.4 2199.0,887.2 2201.0,887.0 2203.0,885.1 2205.0,888.0 2207.0,886.5 2209.0,885.0 2211.0,885.1 2213.0,885.2 2214.1,887.6 2215.0,886.6 2217.0,884.6 2219.3,887.8 2221.0,887.3" stroke="#5B9BD5"/>
<path d="M446.1,1039.9 447.0,1040.5 449.0,1035.9 451.0,1038.1 453.1,1038.9 455.0,1038.4 457.0,1036.8 459.0,1036.7 461.0,1034.5 463.0,1033.9 465.0,1032.6 466.2,1030.7 467.0,1030.6 469.0,1031.1 471.0,1029.3 473.0,1030.4 474.9,1029.6 477.0,1029.1 479.0,1026.3 481.0,1026.7 483.6,1023.1 485.0,1022.5 487.0,1022.4 489.0,1021.6 491.0,1018.7 492.4,1017.9 495.0,1019.4 497.0,1017.8 499.0,1019.5 501.1,1018.2 503.0,1017.0 505.0,1015.7 507.0,1015.2 509.0,1013.0 509.8,1013.7 511.0,1011.4 513.0,1010.5 515.0,1008.8 517.0,1008.9 518.6,1007.4 521.0,1005.1 523.0,1006.7 525.0,1003.2 527.3,1002.0 529.0,1001.9 531.0,1002.4 533.0,999.7 535.0,999.8 536.0,998.7 537.0,996.6 539.0,997.8 541.0,996.9 543.0,994.6 544.8,993.8 547.0,991.3 549.0,990.4 551.0,990.6 553.5,990.5 555.0,989.1 557.0,989.5 559.0,989.8 561.0,988.5 562.2,988.7 565.0,988.8 567.0,985.5 569.0,986.9 570.9,983.7 573.0,985.0 575.0,983.7 577.0,982.0 579.7,980.1 581.0,980.7 583.0,979.8 585.0,979.7 587.0,978.1 588.4,979.1 591.0,976.8 593.0,976.9 595.0,976.2 597.1,977.2 599.0,973.7 601.0,974.0 603.0,974.8 605.0,972.1 605.9,971.2 607.0,972.5 609.0,971.5 611.0,972.3 613.0,970.1 614.6,970.9 617.0,970.9 619.0,970.9 621.0,968.3 623.3,970.4 625.0,967.5 627.0,966.2 629.0,966.1 631.0,966.6 632.1,965.8 633.0,966.2 635.0,965.6 637.0,964.7 639.0,963.4 641.0,964.8 643.0,960.0 645.0,959.8 647.0,960.4 649.5,958.7 651.0,957.3 653.0,958.8 655.0,958.7 657.0,956.8 659.0,959.9 661.0,960.1 663.0,959.9 665.0,957.9 667.0,958.4 669.0,956.9 671.0,958.0 673.0,957.0 675.0,957.8 677.0,956.9 679.0,958.1 681.0,957.7 683.0,957.9 684.4,954.9 687.0,954.2 689.0,956.0 691.0,954.6 693.0,955.2 695.0,954.7 697.0,954.2 699.0,954.5 701.0,953.7 701.9,953.5 703.0,951.8 705.0,953.9 707.0,951.8 709.0,952.3 711.0,951.0 713.0,951.5 715.0,949.9 717.0,949.4 719.4,948.8 721.0,947.8 723.0,947.7 725.0,947.9 727.0,947.7 729.0,946.7 731.0,949.8 733.0,946.3 735.0,946.8 736.8,949.3 739.0,945.9 741.0,947.0 743.0,946.6 745.0,945.4 747.0,943.9 749.0,943.5 751.0,944.7 753.0,944.9 754.3,942.1 757.0,943.9 759.0,942.7 761.0,943.8 763.0,942.7 765.0,941.3 767.0,941.3 769.0,941.4 771.7,942.1 773.0,943.6 775.0,940.5 777.0,939.9 779.0,940.0 781.0,939.0 783.0,939.2 785.0,938.6 787.0,937.8 789.2,936.6 791.0,937.4 793.0,937.9 795.0,936.9 797.0,938.1 799.0,937.3 801.0,936.1 803.0,937.7 805.0,934.7 806.7,936.8 809.0,937.6 811.0,935.6 813.0,935.9 815.0,937.0 817.0,937.6 819.0,936.7 821.0,936.6 823.0,937.4 824.1,936.8 825.0,935.4 827.0,936.6 829.0,936.9 831.0,935.6 833.0,937.7 835.0,936.7 837.0,938.3 839.0,936.3 839.9,936.9 841.0,936.4 843.0,939.0 845.0,939.0 847.0,939.1 849.0,939.1 851.0,938.5 853.0,938.4 855.0,935.8 857.5,937.7 859.0,937.0 861.0,937.3 863.0,936.4 865.0,939.1 867.0,938.0 869.0,936.5 871.0,938.6 873.0,938.1 874.9,937.2 877.0,937.7 879.0,937.0 881.0,935.3 883.0,935.9 885.0,937.7 887.0,937.3 889.0,937.0 891.0,935.4 892.4,935.8 895.0,936.3 897.0,936.9 899.0,935.2 901.0,934.9 903.0,937.0 905.0,935.8 907.0,935.3 909.0,934.8 909.8,934.9 911.0,937.3 913.0,937.0 915.0,935.9 917.0,935.4 919.0,938.6 921.0,938.8 923.0,938.7 925.0,938.7 927.3,936.3 929.0,936.9 931.0,938.9 933.0,938.2 935.0,938.8 937.0,938.1 939.0,938.1 941.0,939.4 943.0,938.5 944.8,939.0 947.0,939.3 949.0,939.3 951.0,940.2 953.0,940.4 955.0,937.7 957.0,938.8 959.0,938.4 961.0,939.8 962.2,938.0 965.0,939.8 967.0,939.7 969.0,939.6 971.0,938.1 973.0,938.8 975.0,937.9 977.0,939.4 979.7,940.0 981.0,937.6 983.0,938.4 985.0,939.1 987.0,938.9 989.0,941.0 991.0,939.4 993.0,939.9 995.0,938.7 997.1,941.4 999.0,940.3 1001.0,941.1 1003.0,940.6 1005.0,938.6 1007.0,939.3 1009.0,939.8 1011.0,941.8 1013.0,941.0 1014.6,942.1 1017.0,941.8 1019.0,941.7 1021.0,942.2 1023.0,941.4 1025.0,939.5 1027.0,940.3 1029.0,942.6 1031.0,939.8 1032.1,942.1 1033.0,942.3 1035.0,939.7 1037.0,940.4 1039.0,938.3 1041.0,940.2 1043.0,938.4 1045.0,937.5 1047.0,938.1 1049.5,937.7 1051.0,937.4 1053.0,938.0 1055.0,937.4 1057.0,936.7 1059.0,938.2 1061.0,939.4 1063.0,936.9 1065.0,935.9 1067.0,935.4 1069.0,936.8 1071.0,935.7 1073.0,935.8 1075.0,933.6 1077.0,934.3 1079.0,934.0 1081.0,936.0 1083.0,934.5 1084.4,932.2 1087.0,934.8 1089.0,935.1 1091.0,935.0 1093.0,930.6 1095.0,933.2 1097.0,933.6 1099.0,933.1 1101.0,931.9 1101.9,930.2 1103.0,931.4 1105.0,931.1 1107.0,931.6 1109.0,931.3 1111.0,930.0 1113.0,930.7 1115.0,928.4 1117.0,928.3 1119.4,928.5 1121.0,929.0 1123.0,928.0 1125.0,929.5 1127.0,928.6 1129.0,927.1 1131.0,928.1 1133.0,927.0 1135.0,926.8 1136.8,926.3 1139.0,929.0 1141.0,928.4 1143.0,925.8 1145.0,928.4 1147.0,928.1 1149.0,926.7 1151.0,927.5 1153.0,929.1 1154.3,927.1 1157.0,927.5 1159.0,928.4 1161.0,926.4 1163.0,926.4 1165.0,926.5 1167.0,928.0 1169.0,929.2 1171.7,927.7 1173.0,927.2 1175.0,928.8 1177.0,928.2 1179.0,929.2 1181.0,928.5 1183.0,928.4 1185.0,928.5 1187.0,928.6 1189.2,927.6 1191.0,927.4 1193.0,930.0 1195.0,931.4 1197.0,929.3 1199.0,926.5 1201.0,928.0 1203.0,929.1 1205.0,926.2 1206.7,927.2 1209.0,928.7 1211.0,929.4 1213.0,930.7 1215.4,934.0 1217.0,932.2 1219.0,932.0 1221.0,933.6 1223.0,930.6 1224.1,929.3 1225.0,931.8 1227.0,933.1 1229.0,931.2 1231.0,931.2 1233.0,929.4 1235.0,929.7 1237.0,932.0 1239.0,931.7 1239.9,930.9 1241.0,929.6 1243.0,928.8 1245.0,928.8 1247.0,928.5 1249.0,930.0 1251.0,928.4 1253.0,928.5 1255.0,929.5 1257.5,929.3 1259.0,928.5 1261.0,928.7 1263.0,928.0 1265.0,925.9 1267.0,927.5 1269.0,927.0 1271.0,926.8 1273.0,927.2 1274.9,926.2 1277.0,928.2 1279.0,927.0 1281.0,927.6 1283.0,927.9 1285.0,927.6 1287.0,928.7 1289.0,929.0 1291.0,929.0 1292.4,927.8 1295.0,927.2 1297.0,927.2 1299.0,927.6 1301.0,925.4 1303.0,926.1 1305.0,925.5 1307.0,925.7 1309.0,925.1 1309.8,926.7 1311.0,926.6 1313.0,927.5 1315.0,926.0 1317.0,926.6 1319.0,927.4 1321.0,929.8 1323.0,930.2 1325.0,928.3 1327.3,930.0 1329.0,931.7 1331.0,928.8 1333.0,929.8 1335.0,931.5 1337.0,931.1 1339.0,929.6 1341.0,932.3 1343.0,932.0 1344.8,931.9 1347.0,930.4 1349.0,931.8 1351.0,933.7 1353.0,933.3 1355.0,934.0 1357.0,933.3 1359.0,935.5 1361.0,934.2 1362.2,935.6 1365.0,935.1 1367.0,933.9 1369.0,936.5 1371.0,933.8 1373.0,934.5 1375.0,935.4 1377.0,934.0 1379.7,933.7 1381.0,935.4 1383.0,935.1 1385.0,935.3 1387.0,936.0 1389.0,937.8 1391.0,935.1 1393.0,938.0 1395.0,935.8 1397.1,935.4 1399.0,932.6 1401.0,933.6 1403.0,935.2 1405.0,935.3 1407.0,933.7 1409.0,934.6 1411.0,935.0 1413.0,933.4 1414.6,932.1 1417.0,932.7 1419.0,933.2 1421.0,933.7 1423.0,934.1 1425.0,932.3 1427.0,933.2 1429.0,932.8 1431.0,933.0 1432.1,934.0 1433.0,934.2 1435.0,932.4 1437.0,932.3 1439.0,932.2 1441.0,932.4 1443.0,932.5 1445.0,932.7 1447.0,932.4 1449.5,931.8 1451.0,931.9 1453.0,933.3 1455.0,935.9 1457.0,934.2 1459.0,934.5 1461.0,934.4 1463.0,934.1 1465.0,936.4 1467.0,934.3 1469.0,933.7 1471.0,933.4 1473.0,934.8 1475.0,933.6 1477.0,933.8 1479.0,933.8 1481.0,933.3 1483.0,934.8 1484.4,932.9 1487.0,937.0 1489.0,932.1 1491.0,933.6 1493.0,935.1 1495.0,935.6 1497.0,934.9 1499.0,935.7 1501.0,935.6 1501.9,935.6 1503.0,936.2 1505.0,935.9 1507.0,935.7 1509.0,935.7 1511.0,936.9 1513.0,935.9 1515.0,936.8 1517.0,937.9 1519.4,936.8 1521.0,937.8 1523.0,936.3 1525.0,937.3 1527.0,937.7 1529.0,937.6 1531.0,938.1 1533.0,939.2 1535.0,937.7 1536.8,937.5 1539.0,938.7 1541.0,937.1 1543.0,938.8 1545.0,940.2 1547.0,939.2 1549.0,939.9 1551.0,940.0 1553.0,941.0 1554.3,940.4 1557.0,940.2 1559.0,936.8 1561.0,939.7 1563.0,941.0 1565.0,940.3 1567.0,939.8 1569.0,941.5 1571.7,939.9 1573.0,940.3 1575.0,941.3 1577.0,940.0 1579.0,940.6 1581.0,940.3 1583.0,939.0 1585.0,939.5 1587.0,939.6 1589.2,939.2 1591.0,941.1 1593.0,940.2 1595.0,939.8 1597.0,939.2 1599.0,940.5 1601.0,942.3 1603.0,940.9 1605.0,942.2 1606.7,942.0 1609.0,941.5 1611.0,941.5 1613.0,943.4 1615.4,941.6 1617.0,943.6 1619.0,941.4 1621.0,943.1 1623.0,941.4 1624.1,941.5 1625.0,942.6 1627.0,940.4 1629.0,941.4 1631.0,940.9 1633.0,941.6 1635.0,941.7 1637.0,941.2 1639.0,941.0 1639.9,940.3 1641.0,941.3 1643.0,940.5 1645.0,940.9 1647.0,940.9 1649.0,939.4 1651.0,939.6 1653.0,941.0 1655.0,940.7 1657.5,942.0 1659.0,938.5 1661.0,941.3 1663.0,942.4 1665.0,941.6 1667.0,942.5 1669.0,941.9 1671.0,942.0 1673.0,943.2 1674.9,941.2 1677.0,940.4 1679.0,943.2 1681.0,942.9 1683.0,943.0 1685.0,943.3 1687.0,943.7 1689.0,942.7 1691.0,943.8 1692.4,943.7 1695.0,942.4 1697.0,943.4 1699.0,944.0 1701.0,943.0 1703.0,944.9 1705.0,943.7 1707.0,944.9 1709.0,945.6 1709.8,942.8 1711.0,943.2 1713.0,945.5 1715.0,945.1 1717.0,946.2 1718.6,947.7 1721.0,947.0 1723.0,949.5 1725.0,949.6 1727.3,950.6 1729.0,949.2 1730.8,946.3 1733.0,947.4 1735.0,946.8 1737.0,947.7 1739.0,947.6 1741.0,945.6 1743.0,947.2 1744.8,947.4 1747.0,948.5 1749.0,946.5 1751.0,947.6 1753.0,946.9 1755.0,945.4 1757.0,947.0 1759.0,947.7 1761.0,946.6 1762.2,947.8 1765.0,947.3 1767.0,947.2 1769.0,946.4 1771.0,946.7 1773.0,947.4 1775.0,946.9 1777.0,945.7 1779.7,946.7 1781.0,947.2 1783.0,947.7 1785.0,947.2 1787.0,945.2 1789.0,946.7 1791.0,944.2 1793.0,944.9 1795.0,944.5 1797.1,946.7 1799.0,944.9 1801.0,943.5 1803.0,941.6 1805.0,942.4 1805.9,940.5 1807.0,941.1 1809.0,941.6 1811.0,940.0 1813.0,940.6 1814.6,937.9 1817.0,940.2 1819.0,937.8 1821.0,939.7 1823.0,939.4 1825.0,939.3 1827.0,941.0 1829.0,936.0 1831.0,938.7 1832.1,937.8 1833.0,938.9 1835.0,938.5 1837.0,938.3 1839.0,937.7 1841.0,937.5 1843.0,938.5 1845.0,936.7 1847.0,939.2 1849.5,937.6 1851.0,938.6 1853.0,936.8 1855.0,938.4 1857.0,937.6 1859.0,938.5 1861.0,938.8 1863.0,937.0 1865.0,937.5 1867.0,937.6 1869.0,939.0 1871.0,936.4 1873.0,938.5 1875.0,938.1 1877.0,937.1 1879.0,938.2 1881.0,938.0 1883.0,940.0 1884.4,938.1 1887.0,940.0 1889.0,938.4 1891.0,939.4 1893.0,936.9 1895.0,937.8 1897.0,938.6 1899.0,937.4 1901.0,936.7 1901.9,938.2 1903.0,938.9 1905.0,938.0 1907.0,937.7 1909.0,938.2 1911.0,937.3 1913.0,938.6 1915.0,938.6 1917.0,936.2 1919.4,938.4 1921.0,936.8 1922.8,935.0 1925.0,937.1 1927.0,939.5 1929.0,941.6 1931.6,943.3 1933.0,941.3 1935.0,942.6 1937.0,939.4 1939.0,941.7 1941.0,941.3 1943.0,941.3 1945.0,939.2 1947.0,941.3 1949.0,940.9 1951.0,939.6 1952.2,937.8 1955.0,939.4 1957.0,938.2 1959.0,937.4 1961.0,938.1 1963.0,941.1 1965.0,937.1 1967.0,938.2 1969.7,938.6 1971.0,938.9 1973.0,936.4 1975.0,935.8 1977.0,937.0 1979.0,935.8 1981.0,936.2 1983.0,933.2 1985.0,933.6 1987.1,934.0 1989.0,932.7 1991.0,930.8 1993.0,931.4 1995.0,928.8 1995.9,929.7 1997.0,931.5 1999.0,932.0 2001.0,931.9 2003.0,932.6 2004.6,930.7 2007.0,931.7 2009.0,933.5 2011.0,934.8 2013.0,933.1 2015.0,931.8 2017.0,931.9 2019.0,934.1 2021.0,934.1 2022.1,931.9 2023.0,933.3 2025.0,934.7 2027.0,935.0 2029.0,933.2 2031.0,933.8 2033.0,934.6 2035.0,933.3 2037.0,932.9 2039.5,934.1 2041.0,936.1 2043.0,936.1 2045.0,935.6 2047.0,934.0 2049.0,933.3 2051.0,934.3 2053.0,935.5 2055.0,936.6 2057.0,934.8 2059.0,935.7 2061.0,933.9 2063.0,933.5 2065.0,935.6 2067.0,934.4 2069.0,934.6 2071.0,933.4 2073.0,936.4 2074.4,933.8 2077.0,935.6 2079.0,934.1 2081.0,935.2 2083.0,936.9 2085.0,935.8 2087.0,935.7 2089.0,936.5 2091.0,936.1 2091.9,937.0 2093.0,934.3 2095.0,937.4 2097.0,936.4 2099.0,935.6 2101.0,937.6 2103.0,937.8 2105.0,937.5 2107.0,938.7 2109.4,936.9 2111.0,936.9 2113.0,938.4 2115.0,940.4 2117.0,940.3 2119.0,940.2 2121.0,939.9 2123.0,941.0 2125.0,942.5 2126.8,941.2 2129.0,941.5 2131.0,942.8 2133.0,943.3 2135.0,943.1 2137.0,944.7 2139.0,943.8 2141.0,942.9 2143.0,942.0 2144.3,945.6 2147.0,944.2 2149.0,944.7 2151.0,944.9 2153.0,945.8 2155.0,945.5 2157.0,945.4 2159.0,944.7 2161.7,944.2 2163.0,944.8 2165.0,943.8 2167.0,945.1 2169.0,945.9 2171.0,945.6 2173.0,945.2 2175.0,944.2 2177.0,944.3 2179.2,944.6 2181.0,945.3 2183.0,946.5 2185.0,947.0 2187.0,947.5 2189.0,948.3 2191.0,946.7 2193.0,947.9 2195.0,949.0 2196.7,949.6 2199.0,948.8 2201.0,949.4 2203.0,951.9 2205.4,952.1 2207.0,951.8 2209.0,950.9 2211.0,950.1 2213.0,950.9 2215.0,951.1 2217.0,951.2 2219.3,951.4 2221.0,950.7" stroke="#70AD47"/>
</g>
<line x1="635.0" y1="154.8" x2="702.0" y2="154.8" stroke="#000000" stroke-width="6" stroke-linecap="round"/>
<text x="707.5" y="181.0">0 ppm</text>
<line x1="1137.0" y1="154.8" x2="1204.0" y2="154.8" stroke="#FFC000" stroke-width="6" stroke-linecap="round"/>
<text x="1209.5" y="181.0">50 ppm</text>
<line x1="1639.0" y1="154.8" x2="1706.0" y2="154.8" stroke="#7030A0" stroke-width="6" stroke-linecap="round"/>
<text x="1711.5" y="181.0">100 ppm</text>
<line x1="635.0" y1="272.6" x2="702.0" y2="272.6" stroke="#FF0000" stroke-width="6" stroke-linecap="round"/>
<text x="707.5" y="298.8">200 ppm</text>
<line x1="1137.0" y1="272.6" x2="1204.0" y2="272.6" stroke="#5B9BD5" stroke-width="6" stroke-linecap="round"/>
<text x="1209.5" y="298.8">400 ppm</text>
<line x1="1639.0" y1="272.6" x2="1706.0" y2="272.6" stroke="#70AD47" stroke-width="6" stroke-linecap="round"/>
<text x="1711.5" y="298.8">600 ppm</text>
<text><tspan x="136.2" y="72.3" font-size="91">−</tspan><tspan x="193.3" y="69.3">0.410</tspan></text>
<text><tspan x="138.6" y="311.5" font-size="91">−</tspan><tspan x="193.3" y="298.2">0.420</tspan></text>
<text><tspan x="138.6" y="542.5" font-size="91">−</tspan><tspan x="193.3" y="527.0">0.430</tspan></text>
<text><tspan x="133.1" y="768.2" font-size="91">−</tspan><tspan x="193.3" y="755.9">0.440</tspan></text>
<text><tspan x="138.6" y="990.5" font-size="91">−</tspan><tspan x="193.3" y="984.8">0.450</tspan></text>
<text><tspan x="138.6" y="1224.6" font-size="91">−</tspan><tspan x="193.3" y="1213.6">0.460</tspan></text>
<text><tspan x="135.9" y="1452.9" font-size="91">−</tspan><tspan x="193.3" y="1442.5">0.470</tspan></text>
<text x="446.0" y="1539" text-anchor="middle">0</text>
<text x="741.7" y="1539" text-anchor="middle">300</text>
<text x="1037.3" y="1539" text-anchor="middle">600</text>
<text x="1333.0" y="1539" text-anchor="middle">900</text>
<text x="1628.7" y="1539" text-anchor="middle">1200</text>
<text x="1924.3" y="1539" text-anchor="middle">1500</text>
<text x="2220.0" y="1539" text-anchor="middle">1800</text>
<text x="1310.5" y="1612.5" text-anchor="middle">Time (s)</text>
<text transform="translate(78.5,1205.7) rotate(-90)" x="0" y="0">Potential (V vs E<tspan font-size="53" dy="18.6">Ag/AgCl</tspan><tspan dy="-18.6">)</tspan></text>
</svg>
</body></html>
